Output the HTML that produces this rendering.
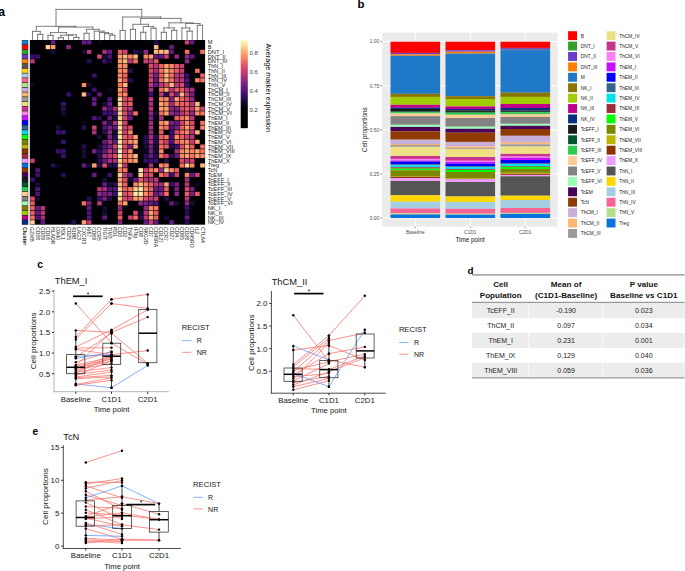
<!DOCTYPE html>
<html><head><meta charset="utf-8"><title>Figure</title>
<style>
html,body{margin:0;padding:0;background:#fff;}
body{width:685px;height:571px;overflow:hidden;}
svg{display:block;font-family:"Liberation Sans", sans-serif;}
</style></head><body>
<svg width="685" height="571" viewBox="0 0 685 571">
<rect x="0" y="0" width="685" height="571" fill="#ffffff"/>
<text x="-1.8" y="15.9" font-size="12.2" fill="#000" text-anchor="start" font-weight="bold">a</text>
<rect x="28.1" y="40" width="1.5" height="184.67" fill="#e4e4e4"/>
<rect x="21.8" y="40" width="6.3" height="184.67" fill="#1a1a1a"/>
<rect x="22.05" y="40.3" width="5.8" height="4.14" fill="#1f78c8"/>
<rect x="22.05" y="45.03" width="5.8" height="4.14" fill="#ff0000"/>
<rect x="22.05" y="49.77" width="5.8" height="4.14" fill="#33a02c"/>
<rect x="22.05" y="54.5" width="5.8" height="4.14" fill="#6a3dc9"/>
<rect x="22.05" y="59.24" width="5.8" height="4.14" fill="#ff7f00"/>
<rect x="22.05" y="63.97" width="5.8" height="4.14" fill="#555555"/>
<rect x="22.05" y="68.71" width="5.8" height="4.14" fill="#ffd700"/>
<rect x="22.05" y="73.45" width="5.8" height="4.14" fill="#a6cee3"/>
<rect x="22.05" y="78.18" width="5.8" height="4.14" fill="#fa6494"/>
<rect x="22.05" y="82.92" width="5.8" height="4.14" fill="#b2df8a"/>
<rect x="22.05" y="87.65" width="5.8" height="4.14" fill="#c8afd9"/>
<rect x="22.05" y="92.39" width="5.8" height="4.14" fill="#fdb56f"/>
<rect x="22.05" y="97.12" width="5.8" height="4.14" fill="#9a9a9a"/>
<rect x="22.05" y="101.86" width="5.8" height="4.14" fill="#eee185"/>
<rect x="22.05" y="106.59" width="5.8" height="4.14" fill="#c83490"/>
<rect x="22.05" y="111.33" width="5.8" height="4.14" fill="#ff80f5"/>
<rect x="22.05" y="116.06" width="5.8" height="4.14" fill="#c60fff"/>
<rect x="22.05" y="120.8" width="5.8" height="4.14" fill="#0000ff"/>
<rect x="22.05" y="125.53" width="5.8" height="4.14" fill="#36648b"/>
<rect x="22.05" y="130.27" width="5.8" height="4.14" fill="#00e0e8"/>
<rect x="22.05" y="135" width="5.8" height="4.14" fill="#00ff00"/>
<rect x="22.05" y="139.74" width="5.8" height="4.14" fill="#7a8800"/>
<rect x="22.05" y="144.47" width="5.8" height="4.14" fill="#bdb500"/>
<rect x="22.05" y="149.21" width="5.8" height="4.14" fill="#8b3300"/>
<rect x="22.05" y="153.94" width="5.8" height="4.14" fill="#a02a3a"/>
<rect x="22.05" y="158.68" width="5.8" height="4.14" fill="#ee9cff"/>
<rect x="22.05" y="163.41" width="5.8" height="4.14" fill="#0a72dc"/>
<rect x="22.05" y="168.15" width="5.8" height="4.14" fill="#8f3a00"/>
<rect x="22.05" y="172.88" width="5.8" height="4.14" fill="#4a0057"/>
<rect x="22.05" y="177.62" width="5.8" height="4.14" fill="#1a1a1a"/>
<rect x="22.05" y="182.35" width="5.8" height="4.14" fill="#00562f"/>
<rect x="22.05" y="187.09" width="5.8" height="4.14" fill="#2bcb4e"/>
<rect x="22.05" y="191.82" width="5.8" height="4.14" fill="#ffcb96"/>
<rect x="22.05" y="196.56" width="5.8" height="4.14" fill="#828282"/>
<rect x="22.05" y="201.29" width="5.8" height="4.14" fill="#9affb5"/>
<rect x="22.05" y="206.03" width="5.8" height="4.14" fill="#8c7400"/>
<rect x="22.05" y="210.76" width="5.8" height="4.14" fill="#a0cd00"/>
<rect x="22.05" y="215.5" width="5.8" height="4.14" fill="#c0008a"/>
<rect x="22.05" y="220.23" width="5.8" height="4.14" fill="#00307f"/>
<rect x="29.9" y="40" width="175.2" height="184.67" fill="#000004"/>
<rect x="50.81" y="40.3" width="4.55" height="4.14" fill="#641a80"/>
<rect x="81.73" y="40.3" width="4.55" height="4.14" fill="#641a80"/>
<rect x="86.88" y="40.3" width="4.55" height="4.14" fill="#641a80"/>
<rect x="97.19" y="40.3" width="4.55" height="4.14" fill="#0a071d"/>
<rect x="153.87" y="40.3" width="4.55" height="4.14" fill="#280e53"/>
<rect x="184.79" y="40.3" width="4.55" height="4.14" fill="#cb4070"/>
<rect x="189.94" y="40.3" width="4.55" height="4.14" fill="#641a80"/>
<rect x="45.66" y="45.03" width="4.55" height="4.14" fill="#fecf92"/>
<rect x="50.81" y="45.03" width="4.55" height="4.14" fill="#fe9f6d"/>
<rect x="66.27" y="45.03" width="4.55" height="4.14" fill="#8c2981"/>
<rect x="153.87" y="45.03" width="4.55" height="4.14" fill="#feb77f"/>
<rect x="169.33" y="45.03" width="4.55" height="4.14" fill="#641a80"/>
<rect x="50.81" y="49.77" width="4.55" height="4.14" fill="#140e36"/>
<rect x="81.73" y="49.77" width="4.55" height="4.14" fill="#140e36"/>
<rect x="86.88" y="49.77" width="4.55" height="4.14" fill="#b73779"/>
<rect x="102.34" y="49.77" width="4.55" height="4.14" fill="#a2307d"/>
<rect x="107.49" y="49.77" width="4.55" height="4.14" fill="#641a80"/>
<rect x="117.8" y="49.77" width="4.55" height="4.14" fill="#ea5d62"/>
<rect x="122.95" y="49.77" width="4.55" height="4.14" fill="#cb4070"/>
<rect x="133.26" y="49.77" width="4.55" height="4.14" fill="#280e53"/>
<rect x="138.41" y="49.77" width="4.55" height="4.14" fill="#140e36"/>
<rect x="143.57" y="49.77" width="4.55" height="4.14" fill="#8c2981"/>
<rect x="153.87" y="49.77" width="4.55" height="4.14" fill="#feb77f"/>
<rect x="159.03" y="49.77" width="4.55" height="4.14" fill="#feb77f"/>
<rect x="164.18" y="49.77" width="4.55" height="4.14" fill="#feb77f"/>
<rect x="169.33" y="49.77" width="4.55" height="4.14" fill="#641a80"/>
<rect x="184.79" y="49.77" width="4.55" height="4.14" fill="#f7705c"/>
<rect x="200.25" y="49.77" width="4.55" height="4.14" fill="#f7705c"/>
<rect x="30.2" y="54.5" width="4.55" height="4.14" fill="#3b0f70"/>
<rect x="35.35" y="54.5" width="4.55" height="4.14" fill="#3b0f70"/>
<rect x="97.19" y="54.5" width="4.55" height="4.14" fill="#de4968"/>
<rect x="102.34" y="54.5" width="4.55" height="4.14" fill="#140e36"/>
<rect x="107.49" y="54.5" width="4.55" height="4.14" fill="#501478"/>
<rect x="117.8" y="54.5" width="4.55" height="4.14" fill="#fe9f6d"/>
<rect x="122.95" y="54.5" width="4.55" height="4.14" fill="#feb77f"/>
<rect x="128.11" y="54.5" width="4.55" height="4.14" fill="#fa8864"/>
<rect x="133.26" y="54.5" width="4.55" height="4.14" fill="#feb77f"/>
<rect x="143.57" y="54.5" width="4.55" height="4.14" fill="#fa8864"/>
<rect x="148.72" y="54.5" width="4.55" height="4.14" fill="#fe9f6d"/>
<rect x="153.87" y="54.5" width="4.55" height="4.14" fill="#641a80"/>
<rect x="159.03" y="54.5" width="4.55" height="4.14" fill="#641a80"/>
<rect x="164.18" y="54.5" width="4.55" height="4.14" fill="#cb4070"/>
<rect x="174.48" y="54.5" width="4.55" height="4.14" fill="#8c2981"/>
<rect x="184.79" y="54.5" width="4.55" height="4.14" fill="#8c2981"/>
<rect x="189.94" y="54.5" width="4.55" height="4.14" fill="#641a80"/>
<rect x="30.2" y="59.24" width="4.55" height="4.14" fill="#b73779"/>
<rect x="86.88" y="59.24" width="4.55" height="4.14" fill="#280e53"/>
<rect x="102.34" y="59.24" width="4.55" height="4.14" fill="#3b0f70"/>
<rect x="107.49" y="59.24" width="4.55" height="4.14" fill="#140e36"/>
<rect x="117.8" y="59.24" width="4.55" height="4.14" fill="#fe9f6d"/>
<rect x="122.95" y="59.24" width="4.55" height="4.14" fill="#feb77f"/>
<rect x="128.11" y="59.24" width="4.55" height="4.14" fill="#b73779"/>
<rect x="133.26" y="59.24" width="4.55" height="4.14" fill="#f7705c"/>
<rect x="143.57" y="59.24" width="4.55" height="4.14" fill="#cb4070"/>
<rect x="148.72" y="59.24" width="4.55" height="4.14" fill="#b73779"/>
<rect x="153.87" y="59.24" width="4.55" height="4.14" fill="#ea5d62"/>
<rect x="184.79" y="59.24" width="4.55" height="4.14" fill="#8c2981"/>
<rect x="117.8" y="63.97" width="4.55" height="4.14" fill="#fa8864"/>
<rect x="122.95" y="63.97" width="4.55" height="4.14" fill="#fa8864"/>
<rect x="148.72" y="63.97" width="4.55" height="4.14" fill="#de4968"/>
<rect x="153.87" y="63.97" width="4.55" height="4.14" fill="#b73779"/>
<rect x="159.03" y="63.97" width="4.55" height="4.14" fill="#ea5d62"/>
<rect x="164.18" y="63.97" width="4.55" height="4.14" fill="#fe9f6d"/>
<rect x="169.33" y="63.97" width="4.55" height="4.14" fill="#fa8864"/>
<rect x="174.48" y="63.97" width="4.55" height="4.14" fill="#ea5d62"/>
<rect x="179.64" y="63.97" width="4.55" height="4.14" fill="#cb4070"/>
<rect x="117.8" y="68.71" width="4.55" height="4.14" fill="#fa8864"/>
<rect x="122.95" y="68.71" width="4.55" height="4.14" fill="#fa8864"/>
<rect x="128.11" y="68.71" width="4.55" height="4.14" fill="#280e53"/>
<rect x="148.72" y="68.71" width="4.55" height="4.14" fill="#de4968"/>
<rect x="153.87" y="68.71" width="4.55" height="4.14" fill="#a2307d"/>
<rect x="159.03" y="68.71" width="4.55" height="4.14" fill="#f7705c"/>
<rect x="164.18" y="68.71" width="4.55" height="4.14" fill="#feb77f"/>
<rect x="169.33" y="68.71" width="4.55" height="4.14" fill="#fa8864"/>
<rect x="174.48" y="68.71" width="4.55" height="4.14" fill="#ea5d62"/>
<rect x="179.64" y="68.71" width="4.55" height="4.14" fill="#cb4070"/>
<rect x="195.1" y="68.71" width="4.55" height="4.14" fill="#f7705c"/>
<rect x="92.04" y="73.45" width="4.55" height="4.14" fill="#3b0f70"/>
<rect x="117.8" y="73.45" width="4.55" height="4.14" fill="#fa8864"/>
<rect x="122.95" y="73.45" width="4.55" height="4.14" fill="#ea5d62"/>
<rect x="148.72" y="73.45" width="4.55" height="4.14" fill="#cb4070"/>
<rect x="153.87" y="73.45" width="4.55" height="4.14" fill="#782180"/>
<rect x="159.03" y="73.45" width="4.55" height="4.14" fill="#ea5d62"/>
<rect x="164.18" y="73.45" width="4.55" height="4.14" fill="#feb77f"/>
<rect x="169.33" y="73.45" width="4.55" height="4.14" fill="#f7705c"/>
<rect x="174.48" y="73.45" width="4.55" height="4.14" fill="#b73779"/>
<rect x="179.64" y="73.45" width="4.55" height="4.14" fill="#b73779"/>
<rect x="184.79" y="73.45" width="4.55" height="4.14" fill="#3b0f70"/>
<rect x="200.25" y="73.45" width="4.55" height="4.14" fill="#ea5d62"/>
<rect x="117.8" y="78.18" width="4.55" height="4.14" fill="#fe9f6d"/>
<rect x="122.95" y="78.18" width="4.55" height="4.14" fill="#ea5d62"/>
<rect x="128.11" y="78.18" width="4.55" height="4.14" fill="#280e53"/>
<rect x="148.72" y="78.18" width="4.55" height="4.14" fill="#de4968"/>
<rect x="153.87" y="78.18" width="4.55" height="4.14" fill="#641a80"/>
<rect x="159.03" y="78.18" width="4.55" height="4.14" fill="#f7705c"/>
<rect x="164.18" y="78.18" width="4.55" height="4.14" fill="#feb77f"/>
<rect x="169.33" y="78.18" width="4.55" height="4.14" fill="#f7705c"/>
<rect x="174.48" y="78.18" width="4.55" height="4.14" fill="#b73779"/>
<rect x="179.64" y="78.18" width="4.55" height="4.14" fill="#b73779"/>
<rect x="184.79" y="78.18" width="4.55" height="4.14" fill="#501478"/>
<rect x="195.1" y="78.18" width="4.55" height="4.14" fill="#fa8864"/>
<rect x="200.25" y="78.18" width="4.55" height="4.14" fill="#f7705c"/>
<rect x="30.2" y="82.92" width="4.55" height="4.14" fill="#0a071d"/>
<rect x="81.73" y="82.92" width="4.55" height="4.14" fill="#fa8864"/>
<rect x="86.88" y="82.92" width="4.55" height="4.14" fill="#140e36"/>
<rect x="117.8" y="82.92" width="4.55" height="4.14" fill="#f7705c"/>
<rect x="122.95" y="82.92" width="4.55" height="4.14" fill="#feb77f"/>
<rect x="148.72" y="82.92" width="4.55" height="4.14" fill="#b73779"/>
<rect x="153.87" y="82.92" width="4.55" height="4.14" fill="#641a80"/>
<rect x="159.03" y="82.92" width="4.55" height="4.14" fill="#b73779"/>
<rect x="164.18" y="82.92" width="4.55" height="4.14" fill="#de4968"/>
<rect x="169.33" y="82.92" width="4.55" height="4.14" fill="#feb77f"/>
<rect x="174.48" y="82.92" width="4.55" height="4.14" fill="#b73779"/>
<rect x="179.64" y="82.92" width="4.55" height="4.14" fill="#de4968"/>
<rect x="184.79" y="82.92" width="4.55" height="4.14" fill="#3b0f70"/>
<rect x="92.04" y="87.65" width="4.55" height="4.14" fill="#3b0f70"/>
<rect x="107.49" y="87.65" width="4.55" height="4.14" fill="#0a071d"/>
<rect x="117.8" y="87.65" width="4.55" height="4.14" fill="#fe9f6d"/>
<rect x="122.95" y="87.65" width="4.55" height="4.14" fill="#de4968"/>
<rect x="148.72" y="87.65" width="4.55" height="4.14" fill="#a2307d"/>
<rect x="159.03" y="87.65" width="4.55" height="4.14" fill="#f7705c"/>
<rect x="164.18" y="87.65" width="4.55" height="4.14" fill="#fe9f6d"/>
<rect x="169.33" y="87.65" width="4.55" height="4.14" fill="#b73779"/>
<rect x="174.48" y="87.65" width="4.55" height="4.14" fill="#ea5d62"/>
<rect x="179.64" y="87.65" width="4.55" height="4.14" fill="#ea5d62"/>
<rect x="184.79" y="87.65" width="4.55" height="4.14" fill="#b73779"/>
<rect x="189.94" y="87.65" width="4.55" height="4.14" fill="#a2307d"/>
<rect x="66.27" y="92.39" width="4.55" height="4.14" fill="#3b0f70"/>
<rect x="81.73" y="92.39" width="4.55" height="4.14" fill="#feb77f"/>
<rect x="86.88" y="92.39" width="4.55" height="4.14" fill="#280e53"/>
<rect x="97.19" y="92.39" width="4.55" height="4.14" fill="#641a80"/>
<rect x="117.8" y="92.39" width="4.55" height="4.14" fill="#fa8864"/>
<rect x="122.95" y="92.39" width="4.55" height="4.14" fill="#fa8864"/>
<rect x="148.72" y="92.39" width="4.55" height="4.14" fill="#3b0f70"/>
<rect x="159.03" y="92.39" width="4.55" height="4.14" fill="#b73779"/>
<rect x="164.18" y="92.39" width="4.55" height="4.14" fill="#280e53"/>
<rect x="169.33" y="92.39" width="4.55" height="4.14" fill="#de4968"/>
<rect x="174.48" y="92.39" width="4.55" height="4.14" fill="#782180"/>
<rect x="179.64" y="92.39" width="4.55" height="4.14" fill="#feb77f"/>
<rect x="184.79" y="92.39" width="4.55" height="4.14" fill="#cb4070"/>
<rect x="189.94" y="92.39" width="4.55" height="4.14" fill="#782180"/>
<rect x="92.04" y="97.12" width="4.55" height="4.14" fill="#641a80"/>
<rect x="107.49" y="97.12" width="4.55" height="4.14" fill="#501478"/>
<rect x="117.8" y="97.12" width="4.55" height="4.14" fill="#fecf92"/>
<rect x="122.95" y="97.12" width="4.55" height="4.14" fill="#de4968"/>
<rect x="128.11" y="97.12" width="4.55" height="4.14" fill="#de4968"/>
<rect x="148.72" y="97.12" width="4.55" height="4.14" fill="#b73779"/>
<rect x="159.03" y="97.12" width="4.55" height="4.14" fill="#fa8864"/>
<rect x="164.18" y="97.12" width="4.55" height="4.14" fill="#fa8864"/>
<rect x="169.33" y="97.12" width="4.55" height="4.14" fill="#782180"/>
<rect x="174.48" y="97.12" width="4.55" height="4.14" fill="#fe9f6d"/>
<rect x="179.64" y="97.12" width="4.55" height="4.14" fill="#ea5d62"/>
<rect x="184.79" y="97.12" width="4.55" height="4.14" fill="#de4968"/>
<rect x="189.94" y="97.12" width="4.55" height="4.14" fill="#8c2981"/>
<rect x="61.12" y="101.86" width="4.55" height="4.14" fill="#3b0f70"/>
<rect x="92.04" y="101.86" width="4.55" height="4.14" fill="#641a80"/>
<rect x="102.34" y="101.86" width="4.55" height="4.14" fill="#140e36"/>
<rect x="107.49" y="101.86" width="4.55" height="4.14" fill="#641a80"/>
<rect x="117.8" y="101.86" width="4.55" height="4.14" fill="#fecf92"/>
<rect x="122.95" y="101.86" width="4.55" height="4.14" fill="#de4968"/>
<rect x="128.11" y="101.86" width="4.55" height="4.14" fill="#ea5d62"/>
<rect x="148.72" y="101.86" width="4.55" height="4.14" fill="#a2307d"/>
<rect x="159.03" y="101.86" width="4.55" height="4.14" fill="#fe9f6d"/>
<rect x="164.18" y="101.86" width="4.55" height="4.14" fill="#fa8864"/>
<rect x="169.33" y="101.86" width="4.55" height="4.14" fill="#a2307d"/>
<rect x="174.48" y="101.86" width="4.55" height="4.14" fill="#f7705c"/>
<rect x="179.64" y="101.86" width="4.55" height="4.14" fill="#ea5d62"/>
<rect x="184.79" y="101.86" width="4.55" height="4.14" fill="#ea5d62"/>
<rect x="189.94" y="101.86" width="4.55" height="4.14" fill="#b73779"/>
<rect x="195.1" y="101.86" width="4.55" height="4.14" fill="#feb77f"/>
<rect x="61.12" y="106.59" width="4.55" height="4.14" fill="#280e53"/>
<rect x="102.34" y="106.59" width="4.55" height="4.14" fill="#8c2981"/>
<rect x="107.49" y="106.59" width="4.55" height="4.14" fill="#501478"/>
<rect x="112.65" y="106.59" width="4.55" height="4.14" fill="#a2307d"/>
<rect x="117.8" y="106.59" width="4.55" height="4.14" fill="#fecf92"/>
<rect x="122.95" y="106.59" width="4.55" height="4.14" fill="#cb4070"/>
<rect x="128.11" y="106.59" width="4.55" height="4.14" fill="#b73779"/>
<rect x="148.72" y="106.59" width="4.55" height="4.14" fill="#b73779"/>
<rect x="159.03" y="106.59" width="4.55" height="4.14" fill="#fe9f6d"/>
<rect x="164.18" y="106.59" width="4.55" height="4.14" fill="#fe9f6d"/>
<rect x="169.33" y="106.59" width="4.55" height="4.14" fill="#8c2981"/>
<rect x="174.48" y="106.59" width="4.55" height="4.14" fill="#782180"/>
<rect x="179.64" y="106.59" width="4.55" height="4.14" fill="#de4968"/>
<rect x="184.79" y="106.59" width="4.55" height="4.14" fill="#ea5d62"/>
<rect x="189.94" y="106.59" width="4.55" height="4.14" fill="#cb4070"/>
<rect x="195.1" y="106.59" width="4.55" height="4.14" fill="#fe9f6d"/>
<rect x="200.25" y="106.59" width="4.55" height="4.14" fill="#cb4070"/>
<rect x="61.12" y="111.33" width="4.55" height="4.14" fill="#140e36"/>
<rect x="102.34" y="111.33" width="4.55" height="4.14" fill="#3b0f70"/>
<rect x="107.49" y="111.33" width="4.55" height="4.14" fill="#3b0f70"/>
<rect x="112.65" y="111.33" width="4.55" height="4.14" fill="#501478"/>
<rect x="117.8" y="111.33" width="4.55" height="4.14" fill="#fecf92"/>
<rect x="122.95" y="111.33" width="4.55" height="4.14" fill="#de4968"/>
<rect x="128.11" y="111.33" width="4.55" height="4.14" fill="#782180"/>
<rect x="133.26" y="111.33" width="4.55" height="4.14" fill="#f7705c"/>
<rect x="148.72" y="111.33" width="4.55" height="4.14" fill="#8c2981"/>
<rect x="153.87" y="111.33" width="4.55" height="4.14" fill="#140e36"/>
<rect x="159.03" y="111.33" width="4.55" height="4.14" fill="#f7705c"/>
<rect x="164.18" y="111.33" width="4.55" height="4.14" fill="#fe9f6d"/>
<rect x="169.33" y="111.33" width="4.55" height="4.14" fill="#8c2981"/>
<rect x="174.48" y="111.33" width="4.55" height="4.14" fill="#782180"/>
<rect x="179.64" y="111.33" width="4.55" height="4.14" fill="#b73779"/>
<rect x="184.79" y="111.33" width="4.55" height="4.14" fill="#de4968"/>
<rect x="189.94" y="111.33" width="4.55" height="4.14" fill="#8c2981"/>
<rect x="195.1" y="111.33" width="4.55" height="4.14" fill="#fa8864"/>
<rect x="200.25" y="111.33" width="4.55" height="4.14" fill="#f7705c"/>
<rect x="92.04" y="116.06" width="4.55" height="4.14" fill="#501478"/>
<rect x="97.19" y="116.06" width="4.55" height="4.14" fill="#280e53"/>
<rect x="107.49" y="116.06" width="4.55" height="4.14" fill="#641a80"/>
<rect x="112.65" y="116.06" width="4.55" height="4.14" fill="#140e36"/>
<rect x="117.8" y="116.06" width="4.55" height="4.14" fill="#fecf92"/>
<rect x="122.95" y="116.06" width="4.55" height="4.14" fill="#cb4070"/>
<rect x="128.11" y="116.06" width="4.55" height="4.14" fill="#641a80"/>
<rect x="148.72" y="116.06" width="4.55" height="4.14" fill="#782180"/>
<rect x="153.87" y="116.06" width="4.55" height="4.14" fill="#0a071d"/>
<rect x="159.03" y="116.06" width="4.55" height="4.14" fill="#a2307d"/>
<rect x="174.48" y="116.06" width="4.55" height="4.14" fill="#ea5d62"/>
<rect x="179.64" y="116.06" width="4.55" height="4.14" fill="#f7705c"/>
<rect x="184.79" y="116.06" width="4.55" height="4.14" fill="#fa8864"/>
<rect x="189.94" y="116.06" width="4.55" height="4.14" fill="#b73779"/>
<rect x="81.73" y="120.8" width="4.55" height="4.14" fill="#0a071d"/>
<rect x="102.34" y="120.8" width="4.55" height="4.14" fill="#782180"/>
<rect x="107.49" y="120.8" width="4.55" height="4.14" fill="#280e53"/>
<rect x="112.65" y="120.8" width="4.55" height="4.14" fill="#a2307d"/>
<rect x="117.8" y="120.8" width="4.55" height="4.14" fill="#fecf92"/>
<rect x="122.95" y="120.8" width="4.55" height="4.14" fill="#cb4070"/>
<rect x="148.72" y="120.8" width="4.55" height="4.14" fill="#a2307d"/>
<rect x="159.03" y="120.8" width="4.55" height="4.14" fill="#fa8864"/>
<rect x="164.18" y="120.8" width="4.55" height="4.14" fill="#fe9f6d"/>
<rect x="169.33" y="120.8" width="4.55" height="4.14" fill="#782180"/>
<rect x="174.48" y="120.8" width="4.55" height="4.14" fill="#641a80"/>
<rect x="179.64" y="120.8" width="4.55" height="4.14" fill="#cb4070"/>
<rect x="184.79" y="120.8" width="4.55" height="4.14" fill="#fa8864"/>
<rect x="189.94" y="120.8" width="4.55" height="4.14" fill="#de4968"/>
<rect x="200.25" y="120.8" width="4.55" height="4.14" fill="#f7705c"/>
<rect x="55.96" y="125.53" width="4.55" height="4.14" fill="#140e36"/>
<rect x="81.73" y="125.53" width="4.55" height="4.14" fill="#280e53"/>
<rect x="92.04" y="125.53" width="4.55" height="4.14" fill="#cb4070"/>
<rect x="102.34" y="125.53" width="4.55" height="4.14" fill="#501478"/>
<rect x="107.49" y="125.53" width="4.55" height="4.14" fill="#782180"/>
<rect x="112.65" y="125.53" width="4.55" height="4.14" fill="#641a80"/>
<rect x="117.8" y="125.53" width="4.55" height="4.14" fill="#fde6a8"/>
<rect x="122.95" y="125.53" width="4.55" height="4.14" fill="#cb4070"/>
<rect x="128.11" y="125.53" width="4.55" height="4.14" fill="#de4968"/>
<rect x="148.72" y="125.53" width="4.55" height="4.14" fill="#a2307d"/>
<rect x="159.03" y="125.53" width="4.55" height="4.14" fill="#fa8864"/>
<rect x="164.18" y="125.53" width="4.55" height="4.14" fill="#f7705c"/>
<rect x="169.33" y="125.53" width="4.55" height="4.14" fill="#501478"/>
<rect x="174.48" y="125.53" width="4.55" height="4.14" fill="#782180"/>
<rect x="179.64" y="125.53" width="4.55" height="4.14" fill="#ea5d62"/>
<rect x="184.79" y="125.53" width="4.55" height="4.14" fill="#fe9f6d"/>
<rect x="189.94" y="125.53" width="4.55" height="4.14" fill="#ea5d62"/>
<rect x="200.25" y="125.53" width="4.55" height="4.14" fill="#fa8864"/>
<rect x="55.96" y="130.27" width="4.55" height="4.14" fill="#3b0f70"/>
<rect x="61.12" y="130.27" width="4.55" height="4.14" fill="#3b0f70"/>
<rect x="92.04" y="130.27" width="4.55" height="4.14" fill="#a2307d"/>
<rect x="102.34" y="130.27" width="4.55" height="4.14" fill="#280e53"/>
<rect x="107.49" y="130.27" width="4.55" height="4.14" fill="#8c2981"/>
<rect x="112.65" y="130.27" width="4.55" height="4.14" fill="#140e36"/>
<rect x="117.8" y="130.27" width="4.55" height="4.14" fill="#fecf92"/>
<rect x="122.95" y="130.27" width="4.55" height="4.14" fill="#cb4070"/>
<rect x="128.11" y="130.27" width="4.55" height="4.14" fill="#fa8864"/>
<rect x="148.72" y="130.27" width="4.55" height="4.14" fill="#8c2981"/>
<rect x="159.03" y="130.27" width="4.55" height="4.14" fill="#ea5d62"/>
<rect x="169.33" y="130.27" width="4.55" height="4.14" fill="#3b0f70"/>
<rect x="174.48" y="130.27" width="4.55" height="4.14" fill="#de4968"/>
<rect x="179.64" y="130.27" width="4.55" height="4.14" fill="#f7705c"/>
<rect x="184.79" y="130.27" width="4.55" height="4.14" fill="#fa8864"/>
<rect x="189.94" y="130.27" width="4.55" height="4.14" fill="#b73779"/>
<rect x="195.1" y="130.27" width="4.55" height="4.14" fill="#feb77f"/>
<rect x="97.19" y="135" width="4.55" height="4.14" fill="#140e36"/>
<rect x="107.49" y="135" width="4.55" height="4.14" fill="#782180"/>
<rect x="112.65" y="135" width="4.55" height="4.14" fill="#280e53"/>
<rect x="117.8" y="135" width="4.55" height="4.14" fill="#fde6a8"/>
<rect x="122.95" y="135" width="4.55" height="4.14" fill="#ea5d62"/>
<rect x="128.11" y="135" width="4.55" height="4.14" fill="#de4968"/>
<rect x="133.26" y="135" width="4.55" height="4.14" fill="#fe9f6d"/>
<rect x="143.57" y="135" width="4.55" height="4.14" fill="#280e53"/>
<rect x="148.72" y="135" width="4.55" height="4.14" fill="#a2307d"/>
<rect x="153.87" y="135" width="4.55" height="4.14" fill="#280e53"/>
<rect x="159.03" y="135" width="4.55" height="4.14" fill="#ea5d62"/>
<rect x="164.18" y="135" width="4.55" height="4.14" fill="#f7705c"/>
<rect x="169.33" y="135" width="4.55" height="4.14" fill="#3b0f70"/>
<rect x="174.48" y="135" width="4.55" height="4.14" fill="#fa8864"/>
<rect x="179.64" y="135" width="4.55" height="4.14" fill="#ea5d62"/>
<rect x="184.79" y="135" width="4.55" height="4.14" fill="#cb4070"/>
<rect x="189.94" y="135" width="4.55" height="4.14" fill="#b73779"/>
<rect x="61.12" y="139.74" width="4.55" height="4.14" fill="#3b0f70"/>
<rect x="102.34" y="139.74" width="4.55" height="4.14" fill="#641a80"/>
<rect x="107.49" y="139.74" width="4.55" height="4.14" fill="#a2307d"/>
<rect x="112.65" y="139.74" width="4.55" height="4.14" fill="#641a80"/>
<rect x="117.8" y="139.74" width="4.55" height="4.14" fill="#fde6a8"/>
<rect x="122.95" y="139.74" width="4.55" height="4.14" fill="#ea5d62"/>
<rect x="128.11" y="139.74" width="4.55" height="4.14" fill="#fa8864"/>
<rect x="133.26" y="139.74" width="4.55" height="4.14" fill="#fe9f6d"/>
<rect x="143.57" y="139.74" width="4.55" height="4.14" fill="#280e53"/>
<rect x="148.72" y="139.74" width="4.55" height="4.14" fill="#a2307d"/>
<rect x="153.87" y="139.74" width="4.55" height="4.14" fill="#280e53"/>
<rect x="159.03" y="139.74" width="4.55" height="4.14" fill="#ea5d62"/>
<rect x="164.18" y="139.74" width="4.55" height="4.14" fill="#cb4070"/>
<rect x="169.33" y="139.74" width="4.55" height="4.14" fill="#501478"/>
<rect x="174.48" y="139.74" width="4.55" height="4.14" fill="#ea5d62"/>
<rect x="179.64" y="139.74" width="4.55" height="4.14" fill="#fa8864"/>
<rect x="184.79" y="139.74" width="4.55" height="4.14" fill="#fa8864"/>
<rect x="189.94" y="139.74" width="4.55" height="4.14" fill="#cb4070"/>
<rect x="195.1" y="139.74" width="4.55" height="4.14" fill="#fe9f6d"/>
<rect x="81.73" y="144.47" width="4.55" height="4.14" fill="#280e53"/>
<rect x="97.19" y="144.47" width="4.55" height="4.14" fill="#140e36"/>
<rect x="102.34" y="144.47" width="4.55" height="4.14" fill="#501478"/>
<rect x="107.49" y="144.47" width="4.55" height="4.14" fill="#782180"/>
<rect x="112.65" y="144.47" width="4.55" height="4.14" fill="#cb4070"/>
<rect x="117.8" y="144.47" width="4.55" height="4.14" fill="#fde6a8"/>
<rect x="122.95" y="144.47" width="4.55" height="4.14" fill="#de4968"/>
<rect x="128.11" y="144.47" width="4.55" height="4.14" fill="#782180"/>
<rect x="133.26" y="144.47" width="4.55" height="4.14" fill="#fe9f6d"/>
<rect x="143.57" y="144.47" width="4.55" height="4.14" fill="#140e36"/>
<rect x="148.72" y="144.47" width="4.55" height="4.14" fill="#782180"/>
<rect x="153.87" y="144.47" width="4.55" height="4.14" fill="#140e36"/>
<rect x="159.03" y="144.47" width="4.55" height="4.14" fill="#f7705c"/>
<rect x="164.18" y="144.47" width="4.55" height="4.14" fill="#ea5d62"/>
<rect x="169.33" y="144.47" width="4.55" height="4.14" fill="#280e53"/>
<rect x="174.48" y="144.47" width="4.55" height="4.14" fill="#3b0f70"/>
<rect x="179.64" y="144.47" width="4.55" height="4.14" fill="#de4968"/>
<rect x="184.79" y="144.47" width="4.55" height="4.14" fill="#fe9f6d"/>
<rect x="189.94" y="144.47" width="4.55" height="4.14" fill="#ea5d62"/>
<rect x="200.25" y="144.47" width="4.55" height="4.14" fill="#f7705c"/>
<rect x="55.96" y="149.21" width="4.55" height="4.14" fill="#3b0f70"/>
<rect x="61.12" y="149.21" width="4.55" height="4.14" fill="#3b0f70"/>
<rect x="81.73" y="149.21" width="4.55" height="4.14" fill="#140e36"/>
<rect x="92.04" y="149.21" width="4.55" height="4.14" fill="#782180"/>
<rect x="97.19" y="149.21" width="4.55" height="4.14" fill="#280e53"/>
<rect x="102.34" y="149.21" width="4.55" height="4.14" fill="#641a80"/>
<rect x="107.49" y="149.21" width="4.55" height="4.14" fill="#b73779"/>
<rect x="112.65" y="149.21" width="4.55" height="4.14" fill="#8c2981"/>
<rect x="117.8" y="149.21" width="4.55" height="4.14" fill="#fdefb1"/>
<rect x="122.95" y="149.21" width="4.55" height="4.14" fill="#de4968"/>
<rect x="128.11" y="149.21" width="4.55" height="4.14" fill="#fa8864"/>
<rect x="138.41" y="149.21" width="4.55" height="4.14" fill="#0a071d"/>
<rect x="143.57" y="149.21" width="4.55" height="4.14" fill="#0a071d"/>
<rect x="148.72" y="149.21" width="4.55" height="4.14" fill="#782180"/>
<rect x="153.87" y="149.21" width="4.55" height="4.14" fill="#140e36"/>
<rect x="159.03" y="149.21" width="4.55" height="4.14" fill="#fa8864"/>
<rect x="174.48" y="149.21" width="4.55" height="4.14" fill="#a2307d"/>
<rect x="179.64" y="149.21" width="4.55" height="4.14" fill="#fa8864"/>
<rect x="184.79" y="149.21" width="4.55" height="4.14" fill="#fe9f6d"/>
<rect x="189.94" y="149.21" width="4.55" height="4.14" fill="#fa8864"/>
<rect x="195.1" y="149.21" width="4.55" height="4.14" fill="#fe9f6d"/>
<rect x="200.25" y="149.21" width="4.55" height="4.14" fill="#f7705c"/>
<rect x="61.12" y="153.94" width="4.55" height="4.14" fill="#3b0f70"/>
<rect x="81.73" y="153.94" width="4.55" height="4.14" fill="#140e36"/>
<rect x="97.19" y="153.94" width="4.55" height="4.14" fill="#280e53"/>
<rect x="102.34" y="153.94" width="4.55" height="4.14" fill="#a2307d"/>
<rect x="107.49" y="153.94" width="4.55" height="4.14" fill="#b73779"/>
<rect x="112.65" y="153.94" width="4.55" height="4.14" fill="#de4968"/>
<rect x="117.8" y="153.94" width="4.55" height="4.14" fill="#fde6a8"/>
<rect x="122.95" y="153.94" width="4.55" height="4.14" fill="#ea5d62"/>
<rect x="128.11" y="153.94" width="4.55" height="4.14" fill="#fa8864"/>
<rect x="133.26" y="153.94" width="4.55" height="4.14" fill="#feb77f"/>
<rect x="143.57" y="153.94" width="4.55" height="4.14" fill="#280e53"/>
<rect x="148.72" y="153.94" width="4.55" height="4.14" fill="#641a80"/>
<rect x="153.87" y="153.94" width="4.55" height="4.14" fill="#280e53"/>
<rect x="159.03" y="153.94" width="4.55" height="4.14" fill="#f7705c"/>
<rect x="164.18" y="153.94" width="4.55" height="4.14" fill="#cb4070"/>
<rect x="169.33" y="153.94" width="4.55" height="4.14" fill="#280e53"/>
<rect x="174.48" y="153.94" width="4.55" height="4.14" fill="#641a80"/>
<rect x="179.64" y="153.94" width="4.55" height="4.14" fill="#fa8864"/>
<rect x="184.79" y="153.94" width="4.55" height="4.14" fill="#fe9f6d"/>
<rect x="189.94" y="153.94" width="4.55" height="4.14" fill="#f7705c"/>
<rect x="195.1" y="153.94" width="4.55" height="4.14" fill="#fe9f6d"/>
<rect x="200.25" y="153.94" width="4.55" height="4.14" fill="#fa8864"/>
<rect x="30.2" y="158.68" width="4.55" height="4.14" fill="#cb4070"/>
<rect x="97.19" y="158.68" width="4.55" height="4.14" fill="#280e53"/>
<rect x="102.34" y="158.68" width="4.55" height="4.14" fill="#641a80"/>
<rect x="107.49" y="158.68" width="4.55" height="4.14" fill="#a2307d"/>
<rect x="112.65" y="158.68" width="4.55" height="4.14" fill="#a2307d"/>
<rect x="117.8" y="158.68" width="4.55" height="4.14" fill="#fecf92"/>
<rect x="122.95" y="158.68" width="4.55" height="4.14" fill="#f7705c"/>
<rect x="128.11" y="158.68" width="4.55" height="4.14" fill="#fa8864"/>
<rect x="133.26" y="158.68" width="4.55" height="4.14" fill="#fe9f6d"/>
<rect x="143.57" y="158.68" width="4.55" height="4.14" fill="#3b0f70"/>
<rect x="148.72" y="158.68" width="4.55" height="4.14" fill="#3b0f70"/>
<rect x="153.87" y="158.68" width="4.55" height="4.14" fill="#3b0f70"/>
<rect x="164.18" y="158.68" width="4.55" height="4.14" fill="#280e53"/>
<rect x="179.64" y="158.68" width="4.55" height="4.14" fill="#de4968"/>
<rect x="184.79" y="158.68" width="4.55" height="4.14" fill="#b73779"/>
<rect x="189.94" y="158.68" width="4.55" height="4.14" fill="#cb4070"/>
<rect x="50.81" y="163.41" width="4.55" height="4.14" fill="#280e53"/>
<rect x="55.96" y="163.41" width="4.55" height="4.14" fill="#0a071d"/>
<rect x="81.73" y="163.41" width="4.55" height="4.14" fill="#641a80"/>
<rect x="86.88" y="163.41" width="4.55" height="4.14" fill="#140e36"/>
<rect x="92.04" y="163.41" width="4.55" height="4.14" fill="#fe9f6d"/>
<rect x="97.19" y="163.41" width="4.55" height="4.14" fill="#280e53"/>
<rect x="102.34" y="163.41" width="4.55" height="4.14" fill="#de4968"/>
<rect x="107.49" y="163.41" width="4.55" height="4.14" fill="#280e53"/>
<rect x="112.65" y="163.41" width="4.55" height="4.14" fill="#280e53"/>
<rect x="117.8" y="163.41" width="4.55" height="4.14" fill="#fecf92"/>
<rect x="122.95" y="163.41" width="4.55" height="4.14" fill="#b73779"/>
<rect x="148.72" y="163.41" width="4.55" height="4.14" fill="#a2307d"/>
<rect x="159.03" y="163.41" width="4.55" height="4.14" fill="#fa8864"/>
<rect x="164.18" y="163.41" width="4.55" height="4.14" fill="#fa8864"/>
<rect x="179.64" y="163.41" width="4.55" height="4.14" fill="#f7705c"/>
<rect x="184.79" y="163.41" width="4.55" height="4.14" fill="#fecf92"/>
<rect x="189.94" y="163.41" width="4.55" height="4.14" fill="#fa8864"/>
<rect x="200.25" y="163.41" width="4.55" height="4.14" fill="#feb77f"/>
<rect x="35.35" y="168.15" width="4.55" height="4.14" fill="#501478"/>
<rect x="117.8" y="168.15" width="4.55" height="4.14" fill="#fa8864"/>
<rect x="122.95" y="168.15" width="4.55" height="4.14" fill="#f7705c"/>
<rect x="138.41" y="168.15" width="4.55" height="4.14" fill="#fde6a8"/>
<rect x="143.57" y="168.15" width="4.55" height="4.14" fill="#cb4070"/>
<rect x="148.72" y="168.15" width="4.55" height="4.14" fill="#f7705c"/>
<rect x="153.87" y="168.15" width="4.55" height="4.14" fill="#fa8864"/>
<rect x="159.03" y="168.15" width="4.55" height="4.14" fill="#8c2981"/>
<rect x="164.18" y="168.15" width="4.55" height="4.14" fill="#fecf92"/>
<rect x="169.33" y="168.15" width="4.55" height="4.14" fill="#fa8864"/>
<rect x="174.48" y="168.15" width="4.55" height="4.14" fill="#ea5d62"/>
<rect x="184.79" y="168.15" width="4.55" height="4.14" fill="#140e36"/>
<rect x="35.35" y="172.88" width="4.55" height="4.14" fill="#3b0f70"/>
<rect x="61.12" y="172.88" width="4.55" height="4.14" fill="#280e53"/>
<rect x="92.04" y="172.88" width="4.55" height="4.14" fill="#641a80"/>
<rect x="107.49" y="172.88" width="4.55" height="4.14" fill="#3b0f70"/>
<rect x="117.8" y="172.88" width="4.55" height="4.14" fill="#fecf92"/>
<rect x="122.95" y="172.88" width="4.55" height="4.14" fill="#b73779"/>
<rect x="128.11" y="172.88" width="4.55" height="4.14" fill="#782180"/>
<rect x="138.41" y="172.88" width="4.55" height="4.14" fill="#fecf92"/>
<rect x="143.57" y="172.88" width="4.55" height="4.14" fill="#cb4070"/>
<rect x="148.72" y="172.88" width="4.55" height="4.14" fill="#de4968"/>
<rect x="159.03" y="172.88" width="4.55" height="4.14" fill="#f7705c"/>
<rect x="164.18" y="172.88" width="4.55" height="4.14" fill="#de4968"/>
<rect x="169.33" y="172.88" width="4.55" height="4.14" fill="#3b0f70"/>
<rect x="174.48" y="172.88" width="4.55" height="4.14" fill="#cb4070"/>
<rect x="184.79" y="172.88" width="4.55" height="4.14" fill="#fa8864"/>
<rect x="189.94" y="172.88" width="4.55" height="4.14" fill="#641a80"/>
<rect x="195.1" y="172.88" width="4.55" height="4.14" fill="#cb4070"/>
<rect x="30.2" y="177.62" width="4.55" height="4.14" fill="#3b0f70"/>
<rect x="102.34" y="177.62" width="4.55" height="4.14" fill="#140e36"/>
<rect x="117.8" y="177.62" width="4.55" height="4.14" fill="#fe9f6d"/>
<rect x="122.95" y="177.62" width="4.55" height="4.14" fill="#de4968"/>
<rect x="128.11" y="177.62" width="4.55" height="4.14" fill="#140e36"/>
<rect x="133.26" y="177.62" width="4.55" height="4.14" fill="#641a80"/>
<rect x="138.41" y="177.62" width="4.55" height="4.14" fill="#ea5d62"/>
<rect x="143.57" y="177.62" width="4.55" height="4.14" fill="#b73779"/>
<rect x="148.72" y="177.62" width="4.55" height="4.14" fill="#a2307d"/>
<rect x="153.87" y="177.62" width="4.55" height="4.14" fill="#b73779"/>
<rect x="184.79" y="177.62" width="4.55" height="4.14" fill="#a2307d"/>
<rect x="35.35" y="182.35" width="4.55" height="4.14" fill="#140e36"/>
<rect x="102.34" y="182.35" width="4.55" height="4.14" fill="#641a80"/>
<rect x="107.49" y="182.35" width="4.55" height="4.14" fill="#140e36"/>
<rect x="112.65" y="182.35" width="4.55" height="4.14" fill="#280e53"/>
<rect x="117.8" y="182.35" width="4.55" height="4.14" fill="#feb77f"/>
<rect x="122.95" y="182.35" width="4.55" height="4.14" fill="#ea5d62"/>
<rect x="133.26" y="182.35" width="4.55" height="4.14" fill="#fa8864"/>
<rect x="138.41" y="182.35" width="4.55" height="4.14" fill="#feb77f"/>
<rect x="143.57" y="182.35" width="4.55" height="4.14" fill="#fa8864"/>
<rect x="148.72" y="182.35" width="4.55" height="4.14" fill="#ea5d62"/>
<rect x="153.87" y="182.35" width="4.55" height="4.14" fill="#b73779"/>
<rect x="159.03" y="182.35" width="4.55" height="4.14" fill="#a2307d"/>
<rect x="164.18" y="182.35" width="4.55" height="4.14" fill="#fe9f6d"/>
<rect x="169.33" y="182.35" width="4.55" height="4.14" fill="#3b0f70"/>
<rect x="174.48" y="182.35" width="4.55" height="4.14" fill="#782180"/>
<rect x="184.79" y="182.35" width="4.55" height="4.14" fill="#b73779"/>
<rect x="195.1" y="182.35" width="4.55" height="4.14" fill="#0a071d"/>
<rect x="35.35" y="187.09" width="4.55" height="4.14" fill="#501478"/>
<rect x="97.19" y="187.09" width="4.55" height="4.14" fill="#b73779"/>
<rect x="102.34" y="187.09" width="4.55" height="4.14" fill="#a2307d"/>
<rect x="107.49" y="187.09" width="4.55" height="4.14" fill="#501478"/>
<rect x="112.65" y="187.09" width="4.55" height="4.14" fill="#501478"/>
<rect x="117.8" y="187.09" width="4.55" height="4.14" fill="#fecf92"/>
<rect x="122.95" y="187.09" width="4.55" height="4.14" fill="#ea5d62"/>
<rect x="128.11" y="187.09" width="4.55" height="4.14" fill="#f7705c"/>
<rect x="133.26" y="187.09" width="4.55" height="4.14" fill="#fecf92"/>
<rect x="138.41" y="187.09" width="4.55" height="4.14" fill="#fde6a8"/>
<rect x="143.57" y="187.09" width="4.55" height="4.14" fill="#fa8864"/>
<rect x="148.72" y="187.09" width="4.55" height="4.14" fill="#ea5d62"/>
<rect x="153.87" y="187.09" width="4.55" height="4.14" fill="#641a80"/>
<rect x="159.03" y="187.09" width="4.55" height="4.14" fill="#641a80"/>
<rect x="164.18" y="187.09" width="4.55" height="4.14" fill="#ea5d62"/>
<rect x="174.48" y="187.09" width="4.55" height="4.14" fill="#782180"/>
<rect x="184.79" y="187.09" width="4.55" height="4.14" fill="#de4968"/>
<rect x="189.94" y="187.09" width="4.55" height="4.14" fill="#782180"/>
<rect x="35.35" y="191.82" width="4.55" height="4.14" fill="#501478"/>
<rect x="97.19" y="191.82" width="4.55" height="4.14" fill="#8c2981"/>
<rect x="102.34" y="191.82" width="4.55" height="4.14" fill="#782180"/>
<rect x="107.49" y="191.82" width="4.55" height="4.14" fill="#782180"/>
<rect x="112.65" y="191.82" width="4.55" height="4.14" fill="#3b0f70"/>
<rect x="117.8" y="191.82" width="4.55" height="4.14" fill="#fde6a8"/>
<rect x="122.95" y="191.82" width="4.55" height="4.14" fill="#de4968"/>
<rect x="128.11" y="191.82" width="4.55" height="4.14" fill="#ea5d62"/>
<rect x="133.26" y="191.82" width="4.55" height="4.14" fill="#fde6a8"/>
<rect x="138.41" y="191.82" width="4.55" height="4.14" fill="#fde6a8"/>
<rect x="143.57" y="191.82" width="4.55" height="4.14" fill="#fa8864"/>
<rect x="148.72" y="191.82" width="4.55" height="4.14" fill="#ea5d62"/>
<rect x="153.87" y="191.82" width="4.55" height="4.14" fill="#641a80"/>
<rect x="159.03" y="191.82" width="4.55" height="4.14" fill="#8c2981"/>
<rect x="164.18" y="191.82" width="4.55" height="4.14" fill="#f7705c"/>
<rect x="174.48" y="191.82" width="4.55" height="4.14" fill="#8c2981"/>
<rect x="184.79" y="191.82" width="4.55" height="4.14" fill="#ea5d62"/>
<rect x="189.94" y="191.82" width="4.55" height="4.14" fill="#782180"/>
<rect x="195.1" y="191.82" width="4.55" height="4.14" fill="#ea5d62"/>
<rect x="30.2" y="196.56" width="4.55" height="4.14" fill="#de4968"/>
<rect x="35.35" y="196.56" width="4.55" height="4.14" fill="#140e36"/>
<rect x="86.88" y="196.56" width="4.55" height="4.14" fill="#280e53"/>
<rect x="97.19" y="196.56" width="4.55" height="4.14" fill="#3b0f70"/>
<rect x="102.34" y="196.56" width="4.55" height="4.14" fill="#782180"/>
<rect x="107.49" y="196.56" width="4.55" height="4.14" fill="#280e53"/>
<rect x="117.8" y="196.56" width="4.55" height="4.14" fill="#fecf92"/>
<rect x="122.95" y="196.56" width="4.55" height="4.14" fill="#de4968"/>
<rect x="128.11" y="196.56" width="4.55" height="4.14" fill="#cb4070"/>
<rect x="133.26" y="196.56" width="4.55" height="4.14" fill="#fe9f6d"/>
<rect x="138.41" y="196.56" width="4.55" height="4.14" fill="#fe9f6d"/>
<rect x="143.57" y="196.56" width="4.55" height="4.14" fill="#de4968"/>
<rect x="148.72" y="196.56" width="4.55" height="4.14" fill="#b73779"/>
<rect x="153.87" y="196.56" width="4.55" height="4.14" fill="#cb4070"/>
<rect x="164.18" y="196.56" width="4.55" height="4.14" fill="#280e53"/>
<rect x="184.79" y="196.56" width="4.55" height="4.14" fill="#b73779"/>
<rect x="30.2" y="201.29" width="4.55" height="4.14" fill="#ea5d62"/>
<rect x="81.73" y="201.29" width="4.55" height="4.14" fill="#f7705c"/>
<rect x="86.88" y="201.29" width="4.55" height="4.14" fill="#782180"/>
<rect x="97.19" y="201.29" width="4.55" height="4.14" fill="#b73779"/>
<rect x="117.8" y="201.29" width="4.55" height="4.14" fill="#f7705c"/>
<rect x="122.95" y="201.29" width="4.55" height="4.14" fill="#fe9f6d"/>
<rect x="138.41" y="201.29" width="4.55" height="4.14" fill="#8c2981"/>
<rect x="143.57" y="201.29" width="4.55" height="4.14" fill="#782180"/>
<rect x="148.72" y="201.29" width="4.55" height="4.14" fill="#641a80"/>
<rect x="153.87" y="201.29" width="4.55" height="4.14" fill="#501478"/>
<rect x="169.33" y="201.29" width="4.55" height="4.14" fill="#641a80"/>
<rect x="174.48" y="201.29" width="4.55" height="4.14" fill="#140e36"/>
<rect x="184.79" y="201.29" width="4.55" height="4.14" fill="#8c2981"/>
<rect x="189.94" y="201.29" width="4.55" height="4.14" fill="#140e36"/>
<rect x="30.2" y="206.03" width="4.55" height="4.14" fill="#ea5d62"/>
<rect x="35.35" y="206.03" width="4.55" height="4.14" fill="#641a80"/>
<rect x="40.51" y="206.03" width="4.55" height="4.14" fill="#b73779"/>
<rect x="86.88" y="206.03" width="4.55" height="4.14" fill="#641a80"/>
<rect x="102.34" y="206.03" width="4.55" height="4.14" fill="#140e36"/>
<rect x="117.8" y="206.03" width="4.55" height="4.14" fill="#8c2981"/>
<rect x="143.57" y="206.03" width="4.55" height="4.14" fill="#8c2981"/>
<rect x="148.72" y="206.03" width="4.55" height="4.14" fill="#fa8864"/>
<rect x="153.87" y="206.03" width="4.55" height="4.14" fill="#f7705c"/>
<rect x="184.79" y="206.03" width="4.55" height="4.14" fill="#3b0f70"/>
<rect x="30.2" y="210.76" width="4.55" height="4.14" fill="#ea5d62"/>
<rect x="35.35" y="210.76" width="4.55" height="4.14" fill="#641a80"/>
<rect x="40.51" y="210.76" width="4.55" height="4.14" fill="#b73779"/>
<rect x="86.88" y="210.76" width="4.55" height="4.14" fill="#501478"/>
<rect x="102.34" y="210.76" width="4.55" height="4.14" fill="#140e36"/>
<rect x="117.8" y="210.76" width="4.55" height="4.14" fill="#cb4070"/>
<rect x="133.26" y="210.76" width="4.55" height="4.14" fill="#de4968"/>
<rect x="138.41" y="210.76" width="4.55" height="4.14" fill="#140e36"/>
<rect x="143.57" y="210.76" width="4.55" height="4.14" fill="#b73779"/>
<rect x="148.72" y="210.76" width="4.55" height="4.14" fill="#fe9f6d"/>
<rect x="153.87" y="210.76" width="4.55" height="4.14" fill="#ea5d62"/>
<rect x="184.79" y="210.76" width="4.55" height="4.14" fill="#280e53"/>
<rect x="30.2" y="215.5" width="4.55" height="4.14" fill="#f7705c"/>
<rect x="35.35" y="215.5" width="4.55" height="4.14" fill="#501478"/>
<rect x="40.51" y="215.5" width="4.55" height="4.14" fill="#a2307d"/>
<rect x="86.88" y="215.5" width="4.55" height="4.14" fill="#501478"/>
<rect x="102.34" y="215.5" width="4.55" height="4.14" fill="#641a80"/>
<rect x="117.8" y="215.5" width="4.55" height="4.14" fill="#ea5d62"/>
<rect x="128.11" y="215.5" width="4.55" height="4.14" fill="#cb4070"/>
<rect x="133.26" y="215.5" width="4.55" height="4.14" fill="#f7705c"/>
<rect x="138.41" y="215.5" width="4.55" height="4.14" fill="#280e53"/>
<rect x="143.57" y="215.5" width="4.55" height="4.14" fill="#b73779"/>
<rect x="148.72" y="215.5" width="4.55" height="4.14" fill="#fe9f6d"/>
<rect x="153.87" y="215.5" width="4.55" height="4.14" fill="#ea5d62"/>
<rect x="164.18" y="215.5" width="4.55" height="4.14" fill="#140e36"/>
<rect x="184.79" y="215.5" width="4.55" height="4.14" fill="#641a80"/>
<rect x="30.2" y="220.23" width="4.55" height="4.14" fill="#fecf92"/>
<rect x="40.51" y="220.23" width="4.55" height="4.14" fill="#641a80"/>
<rect x="71.42" y="220.23" width="4.55" height="4.14" fill="#280e53"/>
<rect x="81.73" y="220.23" width="4.55" height="4.14" fill="#fe9f6d"/>
<rect x="86.88" y="220.23" width="4.55" height="4.14" fill="#b73779"/>
<rect x="117.8" y="220.23" width="4.55" height="4.14" fill="#782180"/>
<rect x="143.57" y="220.23" width="4.55" height="4.14" fill="#641a80"/>
<rect x="148.72" y="220.23" width="4.55" height="4.14" fill="#cb4070"/>
<rect x="153.87" y="220.23" width="4.55" height="4.14" fill="#641a80"/>
<rect x="169.33" y="220.23" width="4.55" height="4.14" fill="#641a80"/>
<rect x="184.79" y="220.23" width="4.55" height="4.14" fill="#280e53"/>
<path d="M37.63 34.4L42.78 34.4M37.63 34.4L37.63 39.7M42.78 34.4L42.78 39.7M32.48 31.4L40.21 31.4M32.48 31.4L32.48 39.7M40.21 31.4L40.21 34.4M47.94 35.4L53.09 35.4M47.94 35.4L47.94 39.7M53.09 35.4L53.09 39.7M58.24 37.7L63.39 37.7M58.24 37.7L58.24 39.7M63.39 37.7L63.39 39.7M73.7 37.4L78.85 37.4M73.7 37.4L73.7 39.7M78.85 37.4L78.85 39.7M68.55 34.8L76.28 34.8M68.55 34.8L68.55 39.7M76.28 34.8L76.28 37.4M60.82 35.2L72.41 35.2M60.82 35.2L60.82 37.7M72.41 35.2L72.41 34.8M50.51 32.6L66.62 32.6M50.51 32.6L50.51 35.4M66.62 32.6L66.62 35.2M84.01 33.3L89.16 33.3M84.01 33.3L84.01 39.7M89.16 33.3L89.16 39.7M109.77 35.2L114.92 35.2M109.77 35.2L109.77 39.7M114.92 35.2L114.92 39.7M104.62 33.7L112.35 33.7M104.62 33.7L104.62 39.7M112.35 33.7L112.35 35.2M99.47 32.6L108.48 32.6M99.47 32.6L99.47 39.7M108.48 32.6L108.48 33.7M94.31 31.2L103.97 31.2M94.31 31.2L94.31 39.7M103.97 31.2L103.97 32.6M86.58 29.3L99.14 29.3M86.58 29.3L86.58 33.3M99.14 29.3L99.14 31.2M58.56 27.1L92.86 27.1M58.56 27.1L58.56 32.6M92.86 27.1L92.86 29.3M36.34 26.3L75.71 26.3M36.34 26.3L36.34 31.4M75.71 26.3L75.71 27.1M120.08 30.5L125.23 30.5M120.08 30.5L120.08 39.7M125.23 30.5L125.23 39.7M130.38 29.4L135.54 29.4M130.38 29.4L130.38 39.7M135.54 29.4L135.54 39.7M140.69 32.3L145.84 32.3M140.69 32.3L140.69 39.7M145.84 32.3L145.84 39.7M151 28.3L156.15 28.3M151 28.3L151 39.7M156.15 28.3L156.15 39.7M143.27 26.5L153.57 26.5M143.27 26.5L143.27 32.3M153.57 26.5L153.57 28.3M132.96 24.3L148.42 24.3M132.96 24.3L132.96 29.4M148.42 24.3L148.42 26.5M161.3 32.3L166.45 32.3M161.3 32.3L161.3 39.7M166.45 32.3L166.45 39.7M171.61 30.4L176.76 30.4M171.61 30.4L171.61 39.7M176.76 30.4L176.76 39.7M163.88 27.9L174.18 27.9M163.88 27.9L163.88 32.3M174.18 27.9L174.18 30.4M187.07 31.2L192.22 31.2M187.07 31.2L187.07 39.7M192.22 31.2L192.22 39.7M181.91 27.9L189.64 27.9M181.91 27.9L181.91 39.7M189.64 27.9L189.64 31.2M197.37 25.3L202.53 25.3M197.37 25.3L197.37 39.7M202.53 25.3L202.53 39.7M185.78 23.5L199.95 23.5M185.78 23.5L185.78 27.9M199.95 23.5L199.95 25.3M169.03 22.8L192.86 22.8M169.03 22.8L169.03 27.9M192.86 22.8L192.86 23.5M140.69 18.4L180.95 18.4M140.69 18.4L140.69 24.3M180.95 18.4L180.95 22.8M122.65 17L160.82 17M122.65 17L122.65 30.5M160.82 17L160.82 18.4M56.03 9.4L141.74 9.4M56.03 9.4L56.03 26.3M141.74 9.4L141.74 17" stroke="#6e6e6e" stroke-width="0.9" fill="none" stroke-linecap="square"/>
<text x="207.7" y="44.37" font-size="5.7" fill="#222" text-anchor="start" font-weight="normal">M</text>
<text x="207.7" y="49.1" font-size="5.7" fill="#222" text-anchor="start" font-weight="normal">B</text>
<text x="207.7" y="53.84" font-size="5.7" fill="#222" text-anchor="start" font-weight="normal">DNT_I</text>
<text x="207.7" y="58.57" font-size="5.7" fill="#222" text-anchor="start" font-weight="normal">DNT_II</text>
<text x="207.7" y="63.31" font-size="5.7" fill="#222" text-anchor="start" font-weight="normal">DNT_III</text>
<text x="207.7" y="68.04" font-size="5.7" fill="#222" text-anchor="start" font-weight="normal">ThN_I</text>
<text x="207.7" y="72.78" font-size="5.7" fill="#222" text-anchor="start" font-weight="normal">ThN_II</text>
<text x="207.7" y="77.51" font-size="5.7" fill="#222" text-anchor="start" font-weight="normal">ThN_III</text>
<text x="207.7" y="82.25" font-size="5.7" fill="#222" text-anchor="start" font-weight="normal">ThN_IV</text>
<text x="207.7" y="86.98" font-size="5.7" fill="#222" text-anchor="start" font-weight="normal">ThN_V</text>
<text x="207.7" y="91.72" font-size="5.7" fill="#222" text-anchor="start" font-weight="normal">ThCM_I</text>
<text x="207.7" y="96.45" font-size="5.7" fill="#222" text-anchor="start" font-weight="normal">ThCM_II</text>
<text x="207.7" y="101.19" font-size="5.7" fill="#222" text-anchor="start" font-weight="normal">ThCM_III</text>
<text x="207.7" y="105.92" font-size="5.7" fill="#222" text-anchor="start" font-weight="normal">ThCM_IV</text>
<text x="207.7" y="110.66" font-size="5.7" fill="#222" text-anchor="start" font-weight="normal">ThCM_V</text>
<text x="207.7" y="115.39" font-size="5.7" fill="#222" text-anchor="start" font-weight="normal">ThCM_VI</text>
<text x="207.7" y="120.13" font-size="5.7" fill="#222" text-anchor="start" font-weight="normal">ThEM_I</text>
<text x="207.7" y="124.86" font-size="5.7" fill="#222" text-anchor="start" font-weight="normal">ThEM_II</text>
<text x="207.7" y="129.6" font-size="5.7" fill="#222" text-anchor="start" font-weight="normal">ThEM_III</text>
<text x="207.7" y="134.33" font-size="5.7" fill="#222" text-anchor="start" font-weight="normal">ThEM_IV</text>
<text x="207.7" y="139.07" font-size="5.7" fill="#222" text-anchor="start" font-weight="normal">ThEM_V</text>
<text x="207.7" y="143.8" font-size="5.7" fill="#222" text-anchor="start" font-weight="normal">ThEM_VI</text>
<text x="207.7" y="148.54" font-size="5.7" fill="#222" text-anchor="start" font-weight="normal">ThEM_VII</text>
<text x="207.7" y="153.27" font-size="5.7" fill="#222" text-anchor="start" font-weight="normal">ThEM_VIII</text>
<text x="207.7" y="158.01" font-size="5.7" fill="#222" text-anchor="start" font-weight="normal">ThEM_IX</text>
<text x="207.7" y="162.74" font-size="5.7" fill="#222" text-anchor="start" font-weight="normal">ThEM_X</text>
<text x="207.7" y="167.48" font-size="5.7" fill="#222" text-anchor="start" font-weight="normal">Treg</text>
<text x="207.7" y="172.21" font-size="5.7" fill="#222" text-anchor="start" font-weight="normal">TcN</text>
<text x="207.7" y="176.95" font-size="5.7" fill="#222" text-anchor="start" font-weight="normal">TcEM</text>
<text x="207.7" y="181.68" font-size="5.7" fill="#222" text-anchor="start" font-weight="normal">TcEFF_I</text>
<text x="207.7" y="186.42" font-size="5.7" fill="#222" text-anchor="start" font-weight="normal">TcEFF_II</text>
<text x="207.7" y="191.15" font-size="5.7" fill="#222" text-anchor="start" font-weight="normal">TcEFF_III</text>
<text x="207.7" y="195.89" font-size="5.7" fill="#222" text-anchor="start" font-weight="normal">TcEFF_IV</text>
<text x="207.7" y="200.62" font-size="5.7" fill="#222" text-anchor="start" font-weight="normal">TcEFF_V</text>
<text x="207.7" y="205.36" font-size="5.7" fill="#222" text-anchor="start" font-weight="normal">TcEFF_VI</text>
<text x="207.7" y="210.09" font-size="5.7" fill="#222" text-anchor="start" font-weight="normal">NK_I</text>
<text x="207.7" y="214.83" font-size="5.7" fill="#222" text-anchor="start" font-weight="normal">NK_II</text>
<text x="207.7" y="219.56" font-size="5.7" fill="#222" text-anchor="start" font-weight="normal">NK_III</text>
<text x="207.7" y="224.3" font-size="5.7" fill="#222" text-anchor="start" font-weight="normal">NK_IV</text>
<text transform="translate(32.48 226.97) rotate(90)" font-size="5.1" fill="#222" dominant-baseline="central">GZMB</text>
<text transform="translate(37.63 226.97) rotate(90)" font-size="5.1" fill="#222" dominant-baseline="central">CD38</text>
<text transform="translate(42.78 226.97) rotate(90)" font-size="5.1" fill="#222" dominant-baseline="central">CD39</text>
<text transform="translate(47.94 226.97) rotate(90)" font-size="5.1" fill="#222" dominant-baseline="central">CD16</text>
<text transform="translate(53.09 226.97) rotate(90)" font-size="5.1" fill="#222" dominant-baseline="central">HLADR</text>
<text transform="translate(58.24 226.97) rotate(90)" font-size="5.1" fill="#222" dominant-baseline="central">OX40</text>
<text transform="translate(63.39 226.97) rotate(90)" font-size="5.1" fill="#222" dominant-baseline="central">PDL1</text>
<text transform="translate(68.55 226.97) rotate(90)" font-size="5.1" fill="#222" dominant-baseline="central">CD25</text>
<text transform="translate(73.7 226.97) rotate(90)" font-size="5.1" fill="#222" dominant-baseline="central">41BB</text>
<text transform="translate(78.85 226.97) rotate(90)" font-size="5.1" fill="#222" dominant-baseline="central">LAG3</text>
<text transform="translate(84.01 226.97) rotate(90)" font-size="5.1" fill="#222" dominant-baseline="central">CXCR3</text>
<text transform="translate(89.16 226.97) rotate(90)" font-size="5.1" fill="#222" dominant-baseline="central">Ki67</text>
<text transform="translate(94.31 226.97) rotate(90)" font-size="5.1" fill="#222" dominant-baseline="central">CD69</text>
<text transform="translate(99.47 226.97) rotate(90)" font-size="5.1" fill="#222" dominant-baseline="central">CCR5</text>
<text transform="translate(104.62 226.97) rotate(90)" font-size="5.1" fill="#222" dominant-baseline="central">TIGIT</text>
<text transform="translate(109.77 226.97) rotate(90)" font-size="5.1" fill="#222" dominant-baseline="central">TIM3</text>
<text transform="translate(114.92 226.97) rotate(90)" font-size="5.1" fill="#222" dominant-baseline="central">PD1</text>
<text transform="translate(120.08 226.97) rotate(90)" font-size="5.1" fill="#222" dominant-baseline="central">CD3</text>
<text transform="translate(125.23 226.97) rotate(90)" font-size="5.1" fill="#222" dominant-baseline="central">CD2</text>
<text transform="translate(130.38 226.97) rotate(90)" font-size="5.1" fill="#222" dominant-baseline="central">TNFa</text>
<text transform="translate(135.54 226.97) rotate(90)" font-size="5.1" fill="#222" dominant-baseline="central">IFNg</text>
<text transform="translate(140.69 226.97) rotate(90)" font-size="5.1" fill="#222" dominant-baseline="central">CD8</text>
<text transform="translate(145.84 226.97) rotate(90)" font-size="5.1" fill="#222" dominant-baseline="central">NKG2D</text>
<text transform="translate(151 226.97) rotate(90)" font-size="5.1" fill="#222" dominant-baseline="central">CD7</text>
<text transform="translate(156.15 226.97) rotate(90)" font-size="5.1" fill="#222" dominant-baseline="central">CD45RA</text>
<text transform="translate(161.3 226.97) rotate(90)" font-size="5.1" fill="#222" dominant-baseline="central">CD127</text>
<text transform="translate(166.45 226.97) rotate(90)" font-size="5.1" fill="#222" dominant-baseline="central">CCR7</text>
<text transform="translate(171.61 226.97) rotate(90)" font-size="5.1" fill="#222" dominant-baseline="central">CD27</text>
<text transform="translate(176.76 226.97) rotate(90)" font-size="5.1" fill="#222" dominant-baseline="central">CD4</text>
<text transform="translate(181.91 226.97) rotate(90)" font-size="5.1" fill="#222" dominant-baseline="central">CD95</text>
<text transform="translate(187.07 226.97) rotate(90)" font-size="5.1" fill="#222" dominant-baseline="central">CD28</text>
<text transform="translate(192.22 226.97) rotate(90)" font-size="5.1" fill="#222" dominant-baseline="central">CD45RO</text>
<text transform="translate(197.37 226.97) rotate(90)" font-size="5.1" fill="#222" dominant-baseline="central">IL2</text>
<text transform="translate(202.53 226.97) rotate(90)" font-size="5.1" fill="#222" dominant-baseline="central">CTLA4</text>
<text transform="translate(25 226.97) rotate(90)" font-size="5.3" fill="#111" font-weight="bold" dominant-baseline="central">Cluster</text>
<defs><linearGradient id="cb" x1="0" y1="0" x2="0" y2="1"><stop offset="0" stop-color="#fcfdbf"/><stop offset="0.08" stop-color="#fecf92"/><stop offset="0.15" stop-color="#fe9f6d"/><stop offset="0.23" stop-color="#f7705c"/><stop offset="0.31" stop-color="#de4968"/><stop offset="0.39" stop-color="#b73779"/><stop offset="0.46" stop-color="#8c2981"/><stop offset="0.54" stop-color="#641a80"/><stop offset="0.62" stop-color="#3b0f70"/><stop offset="0.69" stop-color="#140e36"/><stop offset="0.77" stop-color="#000004"/><stop offset="1" stop-color="#000004"/></linearGradient></defs>
<rect x="240.7" y="40.2" width="7.1" height="88" fill="url(#cb)"/>
<text x="249.5" y="54.8" font-size="6" fill="#444" text-anchor="start" font-weight="normal">0.8</text>
<text x="249.5" y="73.5" font-size="6" fill="#444" text-anchor="start" font-weight="normal">0.6</text>
<text x="249.5" y="93.4" font-size="6" fill="#444" text-anchor="start" font-weight="normal">0.4</text>
<text x="249.5" y="112.1" font-size="6" fill="#444" text-anchor="start" font-weight="normal">0.2</text>
<text transform="translate(268.9 43.4) rotate(90)" font-size="7.25" fill="#000" dominant-baseline="central">Average marker expression</text>
<text x="357.6" y="8.3" font-size="11.4" fill="#000" text-anchor="start" font-weight="bold">b</text>
<rect x="382.2" y="32.6" width="175.5" height="194.1" fill="#ebebeb"/>
<line x1="382.2" y1="195.95" x2="557.7" y2="195.95" stroke="#f7f7f7" stroke-width="0.5"/>
<line x1="382.2" y1="151.85" x2="557.7" y2="151.85" stroke="#f7f7f7" stroke-width="0.5"/>
<line x1="382.2" y1="107.75" x2="557.7" y2="107.75" stroke="#f7f7f7" stroke-width="0.5"/>
<line x1="382.2" y1="63.65" x2="557.7" y2="63.65" stroke="#f7f7f7" stroke-width="0.5"/>
<line x1="382.2" y1="218" x2="557.7" y2="218" stroke="#ffffff" stroke-width="1"/>
<line x1="382.2" y1="173.9" x2="557.7" y2="173.9" stroke="#ffffff" stroke-width="1"/>
<line x1="382.2" y1="129.8" x2="557.7" y2="129.8" stroke="#ffffff" stroke-width="1"/>
<line x1="382.2" y1="85.7" x2="557.7" y2="85.7" stroke="#ffffff" stroke-width="1"/>
<line x1="382.2" y1="41.6" x2="557.7" y2="41.6" stroke="#ffffff" stroke-width="1"/>
<line x1="415.3" y1="32.6" x2="415.3" y2="226.7" stroke="#ffffff" stroke-width="1"/>
<line x1="470.3" y1="32.6" x2="470.3" y2="226.7" stroke="#ffffff" stroke-width="1"/>
<line x1="525.3" y1="32.6" x2="525.3" y2="226.7" stroke="#ffffff" stroke-width="1"/>
<rect x="390.5" y="41.7" width="49.6" height="11.22" fill="#ff0000"/>
<rect x="390.5" y="52.9" width="49.6" height="1.52" fill="#6a3dc9"/>
<rect x="390.5" y="54.4" width="49.6" height="1.42" fill="#ff7f00"/>
<rect x="390.5" y="55.8" width="49.6" height="38.02" fill="#1f78c8"/>
<rect x="390.5" y="93.8" width="49.6" height="3.12" fill="#8c7400"/>
<rect x="390.5" y="96.9" width="49.6" height="7.92" fill="#a0cd00"/>
<rect x="390.5" y="104.8" width="49.6" height="3.02" fill="#c0008a"/>
<rect x="390.5" y="107.8" width="49.6" height="1.22" fill="#00307f"/>
<rect x="390.5" y="109" width="49.6" height="2.32" fill="#1a1a1a"/>
<rect x="390.5" y="111.3" width="49.6" height="0.92" fill="#00562f"/>
<rect x="390.5" y="112.2" width="49.6" height="1.32" fill="#2bcb4e"/>
<rect x="390.5" y="113.5" width="49.6" height="2.72" fill="#ffcb96"/>
<rect x="390.5" y="116.2" width="49.6" height="8.62" fill="#828282"/>
<rect x="390.5" y="124.8" width="49.6" height="2.12" fill="#9affb5"/>
<rect x="390.5" y="126.9" width="49.6" height="4.42" fill="#4a0057"/>
<rect x="390.5" y="131.3" width="49.6" height="8.42" fill="#8f3a00"/>
<rect x="390.5" y="139.7" width="49.6" height="4.32" fill="#c8afd9"/>
<rect x="390.5" y="144" width="49.6" height="1.02" fill="#fdb56f"/>
<rect x="390.5" y="145" width="49.6" height="1.82" fill="#9a9a9a"/>
<rect x="390.5" y="146.8" width="49.6" height="9.22" fill="#eee185"/>
<rect x="390.5" y="156" width="49.6" height="2.92" fill="#c83490"/>
<rect x="390.5" y="158.9" width="49.6" height="1.62" fill="#ff80f5"/>
<rect x="390.5" y="160.5" width="49.6" height="1.02" fill="#c60fff"/>
<rect x="390.5" y="161.5" width="49.6" height="2.92" fill="#0000ff"/>
<rect x="390.5" y="164.4" width="49.6" height="0.82" fill="#36648b"/>
<rect x="390.5" y="165.2" width="49.6" height="2.12" fill="#00e0e8"/>
<rect x="390.5" y="167.3" width="49.6" height="1.32" fill="#a02a3a"/>
<rect x="390.5" y="168.6" width="49.6" height="1.72" fill="#00ff00"/>
<rect x="390.5" y="170.3" width="49.6" height="6.02" fill="#7a8800"/>
<rect x="390.5" y="176.3" width="49.6" height="0.52" fill="#bdb500"/>
<rect x="390.5" y="176.8" width="49.6" height="1.22" fill="#8b3300"/>
<rect x="390.5" y="178" width="49.6" height="3.02" fill="#ee9cff"/>
<rect x="390.5" y="181" width="49.6" height="14.32" fill="#555555"/>
<rect x="390.5" y="195.3" width="49.6" height="6.42" fill="#ffd700"/>
<rect x="390.5" y="201.7" width="49.6" height="6.82" fill="#a6cee3"/>
<rect x="390.5" y="208.5" width="49.6" height="4.82" fill="#fa6494"/>
<rect x="390.5" y="213.3" width="49.6" height="1.22" fill="#b2df8a"/>
<rect x="390.5" y="214.5" width="49.6" height="3.52" fill="#0a72dc"/>
<rect x="445.5" y="41.7" width="49.6" height="8.62" fill="#ff0000"/>
<rect x="445.5" y="50.3" width="49.6" height="1.42" fill="#6a3dc9"/>
<rect x="445.5" y="51.7" width="49.6" height="1.92" fill="#ff7f00"/>
<rect x="445.5" y="53.6" width="49.6" height="42.62" fill="#1f78c8"/>
<rect x="445.5" y="96.2" width="49.6" height="2.82" fill="#8c7400"/>
<rect x="445.5" y="99" width="49.6" height="7.42" fill="#a0cd00"/>
<rect x="445.5" y="106.4" width="49.6" height="2.62" fill="#c0008a"/>
<rect x="445.5" y="109" width="49.6" height="1.32" fill="#00307f"/>
<rect x="445.5" y="110.3" width="49.6" height="1.62" fill="#1a1a1a"/>
<rect x="445.5" y="111.9" width="49.6" height="0.82" fill="#00562f"/>
<rect x="445.5" y="112.7" width="49.6" height="2.12" fill="#2bcb4e"/>
<rect x="445.5" y="114.8" width="49.6" height="3.22" fill="#ffcb96"/>
<rect x="445.5" y="118" width="49.6" height="8.72" fill="#828282"/>
<rect x="445.5" y="126.7" width="49.6" height="2.12" fill="#9affb5"/>
<rect x="445.5" y="128.8" width="49.6" height="3.92" fill="#4a0057"/>
<rect x="445.5" y="132.7" width="49.6" height="9.22" fill="#8f3a00"/>
<rect x="445.5" y="141.9" width="49.6" height="4.62" fill="#c8afd9"/>
<rect x="445.5" y="146.5" width="49.6" height="1.42" fill="#fdb56f"/>
<rect x="445.5" y="147.9" width="49.6" height="1.02" fill="#9a9a9a"/>
<rect x="445.5" y="148.9" width="49.6" height="8.12" fill="#eee185"/>
<rect x="445.5" y="157" width="49.6" height="3.82" fill="#c83490"/>
<rect x="445.5" y="160.8" width="49.6" height="1.12" fill="#ff80f5"/>
<rect x="445.5" y="161.9" width="49.6" height="1.72" fill="#c60fff"/>
<rect x="445.5" y="163.6" width="49.6" height="2.72" fill="#0000ff"/>
<rect x="445.5" y="166.3" width="49.6" height="0.82" fill="#36648b"/>
<rect x="445.5" y="167.1" width="49.6" height="2.12" fill="#00e0e8"/>
<rect x="445.5" y="169.2" width="49.6" height="0.82" fill="#a02a3a"/>
<rect x="445.5" y="170" width="49.6" height="2.02" fill="#00ff00"/>
<rect x="445.5" y="172" width="49.6" height="6.42" fill="#7a8800"/>
<rect x="445.5" y="178.4" width="49.6" height="0.52" fill="#bdb500"/>
<rect x="445.5" y="178.9" width="49.6" height="0.52" fill="#8b3300"/>
<rect x="445.5" y="179.4" width="49.6" height="2.62" fill="#ee9cff"/>
<rect x="445.5" y="182" width="49.6" height="14.52" fill="#555555"/>
<rect x="445.5" y="196.5" width="49.6" height="5.42" fill="#ffd700"/>
<rect x="445.5" y="201.9" width="49.6" height="6.92" fill="#a6cee3"/>
<rect x="445.5" y="208.8" width="49.6" height="4.92" fill="#fa6494"/>
<rect x="445.5" y="213.7" width="49.6" height="1.02" fill="#b2df8a"/>
<rect x="445.5" y="214.7" width="49.6" height="3.32" fill="#0a72dc"/>
<rect x="500.5" y="41.7" width="49.6" height="6.22" fill="#ff0000"/>
<rect x="500.5" y="47.9" width="49.6" height="1.02" fill="#6a3dc9"/>
<rect x="500.5" y="48.9" width="49.6" height="1.22" fill="#6f7094"/>
<rect x="500.5" y="50.1" width="49.6" height="42.62" fill="#1f78c8"/>
<rect x="500.5" y="92.7" width="49.6" height="4.22" fill="#8c7400"/>
<rect x="500.5" y="96.9" width="49.6" height="7.12" fill="#a0cd00"/>
<rect x="500.5" y="104" width="49.6" height="4.02" fill="#c0008a"/>
<rect x="500.5" y="108" width="49.6" height="2.62" fill="#00307f"/>
<rect x="500.5" y="110.6" width="49.6" height="1.22" fill="#1a1a1a"/>
<rect x="500.5" y="111.8" width="49.6" height="0.52" fill="#00562f"/>
<rect x="500.5" y="112.3" width="49.6" height="2.02" fill="#2bcb4e"/>
<rect x="500.5" y="114.3" width="49.6" height="2.62" fill="#ffcb96"/>
<rect x="500.5" y="116.9" width="49.6" height="6.92" fill="#828282"/>
<rect x="500.5" y="123.8" width="49.6" height="2.02" fill="#9affb5"/>
<rect x="500.5" y="125.8" width="49.6" height="3.22" fill="#4a0057"/>
<rect x="500.5" y="129" width="49.6" height="6.82" fill="#8f3a00"/>
<rect x="500.5" y="135.8" width="49.6" height="6.82" fill="#c8afd9"/>
<rect x="500.5" y="142.6" width="49.6" height="1.82" fill="#fdb56f"/>
<rect x="500.5" y="144.4" width="49.6" height="2.12" fill="#9a9a9a"/>
<rect x="500.5" y="146.5" width="49.6" height="7.42" fill="#eee185"/>
<rect x="500.5" y="153.9" width="49.6" height="2.72" fill="#c83490"/>
<rect x="500.5" y="156.6" width="49.6" height="1.12" fill="#ff80f5"/>
<rect x="500.5" y="157.7" width="49.6" height="2.32" fill="#c60fff"/>
<rect x="500.5" y="160" width="49.6" height="3.32" fill="#0000ff"/>
<rect x="500.5" y="163.3" width="49.6" height="0.72" fill="#36648b"/>
<rect x="500.5" y="164" width="49.6" height="2.12" fill="#00e0e8"/>
<rect x="500.5" y="166.1" width="49.6" height="0.72" fill="#a02a3a"/>
<rect x="500.5" y="166.8" width="49.6" height="2.12" fill="#00ff00"/>
<rect x="500.5" y="168.9" width="49.6" height="3.92" fill="#7a8800"/>
<rect x="500.5" y="172.8" width="49.6" height="1.02" fill="#bdb500"/>
<rect x="500.5" y="173.8" width="49.6" height="1.12" fill="#8b3300"/>
<rect x="500.5" y="174.9" width="49.6" height="1.42" fill="#ee9cff"/>
<rect x="500.5" y="176.3" width="49.6" height="19.42" fill="#555555"/>
<rect x="500.5" y="195.7" width="49.6" height="4.42" fill="#ffd700"/>
<rect x="500.5" y="200.1" width="49.6" height="7.92" fill="#a6cee3"/>
<rect x="500.5" y="208" width="49.6" height="4.92" fill="#fa6494"/>
<rect x="500.5" y="212.9" width="49.6" height="1.02" fill="#b2df8a"/>
<rect x="500.5" y="213.9" width="49.6" height="4.12" fill="#0a72dc"/>
<line x1="380.1" y1="218" x2="382.2" y2="218" stroke="#333" stroke-width="0.5"/>
<text x="379.2" y="219.8" font-size="4.85" fill="#4d4d4d" text-anchor="end" font-weight="normal">0.00</text>
<line x1="380.1" y1="173.9" x2="382.2" y2="173.9" stroke="#333" stroke-width="0.5"/>
<text x="379.2" y="175.7" font-size="4.85" fill="#4d4d4d" text-anchor="end" font-weight="normal">0.25</text>
<line x1="380.1" y1="129.8" x2="382.2" y2="129.8" stroke="#333" stroke-width="0.5"/>
<text x="379.2" y="131.6" font-size="4.85" fill="#4d4d4d" text-anchor="end" font-weight="normal">0.50</text>
<line x1="380.1" y1="85.7" x2="382.2" y2="85.7" stroke="#333" stroke-width="0.5"/>
<text x="379.2" y="87.5" font-size="4.85" fill="#4d4d4d" text-anchor="end" font-weight="normal">0.75</text>
<line x1="380.1" y1="41.6" x2="382.2" y2="41.6" stroke="#333" stroke-width="0.5"/>
<text x="379.2" y="43.4" font-size="4.85" fill="#4d4d4d" text-anchor="end" font-weight="normal">1.00</text>
<line x1="415.3" y1="226.7" x2="415.3" y2="228.3" stroke="#333" stroke-width="0.5"/>
<text x="415.3" y="234.1" font-size="4.85" fill="#4d4d4d" text-anchor="middle" font-weight="normal">Baseline</text>
<line x1="470.3" y1="226.7" x2="470.3" y2="228.3" stroke="#333" stroke-width="0.5"/>
<text x="470.3" y="234.1" font-size="4.85" fill="#4d4d4d" text-anchor="middle" font-weight="normal">C1D1</text>
<line x1="525.3" y1="226.7" x2="525.3" y2="228.3" stroke="#333" stroke-width="0.5"/>
<text x="525.3" y="234.1" font-size="4.85" fill="#4d4d4d" text-anchor="middle" font-weight="normal">C2D1</text>
<text x="470.1" y="241.6" font-size="6.3" fill="#111" text-anchor="middle" font-weight="normal">Time point</text>
<text transform="translate(366.9 129.7) rotate(-90)" font-size="6.4" fill="#111" text-anchor="middle">Cell proportions</text>
<rect x="568.1" y="31.2" width="8.9" height="8.9" fill="#ff0000"/>
<text x="580.7" y="37.5" font-size="4.85" fill="#222" text-anchor="start" font-weight="normal">B</text>
<rect x="568.1" y="41.61" width="8.9" height="8.9" fill="#33a02c"/>
<text x="580.7" y="47.91" font-size="4.85" fill="#222" text-anchor="start" font-weight="normal">DNT_I</text>
<rect x="568.1" y="52.02" width="8.9" height="8.9" fill="#6a3dc9"/>
<text x="580.7" y="58.32" font-size="4.85" fill="#222" text-anchor="start" font-weight="normal">DNT_II</text>
<rect x="568.1" y="62.43" width="8.9" height="8.9" fill="#ff7f00"/>
<text x="580.7" y="68.73" font-size="4.85" fill="#222" text-anchor="start" font-weight="normal">DNT_III</text>
<rect x="568.1" y="72.84" width="8.9" height="8.9" fill="#1f78c8"/>
<text x="580.7" y="79.14" font-size="4.85" fill="#222" text-anchor="start" font-weight="normal">M</text>
<rect x="568.1" y="83.25" width="8.9" height="8.9" fill="#8c7400"/>
<text x="580.7" y="89.55" font-size="4.85" fill="#222" text-anchor="start" font-weight="normal">NK_I</text>
<rect x="568.1" y="93.66" width="8.9" height="8.9" fill="#a0cd00"/>
<text x="580.7" y="99.96" font-size="4.85" fill="#222" text-anchor="start" font-weight="normal">NK_II</text>
<rect x="568.1" y="104.07" width="8.9" height="8.9" fill="#c0008a"/>
<text x="580.7" y="110.37" font-size="4.85" fill="#222" text-anchor="start" font-weight="normal">NK_III</text>
<rect x="568.1" y="114.48" width="8.9" height="8.9" fill="#00307f"/>
<text x="580.7" y="120.78" font-size="4.85" fill="#222" text-anchor="start" font-weight="normal">NK_IV</text>
<rect x="568.1" y="124.89" width="8.9" height="8.9" fill="#1a1a1a"/>
<text x="580.7" y="131.19" font-size="4.85" fill="#222" text-anchor="start" font-weight="normal">TcEFF_I</text>
<rect x="568.1" y="135.3" width="8.9" height="8.9" fill="#00562f"/>
<text x="580.7" y="141.6" font-size="4.85" fill="#222" text-anchor="start" font-weight="normal">TcEFF_II</text>
<rect x="568.1" y="145.71" width="8.9" height="8.9" fill="#2bcb4e"/>
<text x="580.7" y="152.01" font-size="4.85" fill="#222" text-anchor="start" font-weight="normal">TcEFF_III</text>
<rect x="568.1" y="156.12" width="8.9" height="8.9" fill="#ffcb96"/>
<text x="580.7" y="162.42" font-size="4.85" fill="#222" text-anchor="start" font-weight="normal">TcEFF_IV</text>
<rect x="568.1" y="166.53" width="8.9" height="8.9" fill="#828282"/>
<text x="580.7" y="172.83" font-size="4.85" fill="#222" text-anchor="start" font-weight="normal">TcEFF_V</text>
<rect x="568.1" y="176.94" width="8.9" height="8.9" fill="#9affb5"/>
<text x="580.7" y="183.24" font-size="4.85" fill="#222" text-anchor="start" font-weight="normal">TcEFF_VI</text>
<rect x="568.1" y="187.35" width="8.9" height="8.9" fill="#4a0057"/>
<text x="580.7" y="193.65" font-size="4.85" fill="#222" text-anchor="start" font-weight="normal">TcEM</text>
<rect x="568.1" y="197.76" width="8.9" height="8.9" fill="#8f3a00"/>
<text x="580.7" y="204.06" font-size="4.85" fill="#222" text-anchor="start" font-weight="normal">TcN</text>
<rect x="568.1" y="208.17" width="8.9" height="8.9" fill="#c8afd9"/>
<text x="580.7" y="214.47" font-size="4.85" fill="#222" text-anchor="start" font-weight="normal">ThCM_I</text>
<rect x="568.1" y="218.58" width="8.9" height="8.9" fill="#fdb56f"/>
<text x="580.7" y="224.88" font-size="4.85" fill="#222" text-anchor="start" font-weight="normal">ThCM_II</text>
<rect x="568.1" y="228.99" width="8.9" height="8.9" fill="#9a9a9a"/>
<text x="580.7" y="235.29" font-size="4.85" fill="#222" text-anchor="start" font-weight="normal">ThCM_III</text>
<rect x="606.6" y="31.2" width="8.9" height="8.9" fill="#eee185"/>
<text x="619.2" y="37.5" font-size="4.85" fill="#222" text-anchor="start" font-weight="normal">ThCM_IV</text>
<rect x="606.6" y="41.61" width="8.9" height="8.9" fill="#c83490"/>
<text x="619.2" y="47.91" font-size="4.85" fill="#222" text-anchor="start" font-weight="normal">ThCM_V</text>
<rect x="606.6" y="52.02" width="8.9" height="8.9" fill="#ff80f5"/>
<text x="619.2" y="58.32" font-size="4.85" fill="#222" text-anchor="start" font-weight="normal">ThCM_VI</text>
<rect x="606.6" y="62.43" width="8.9" height="8.9" fill="#c60fff"/>
<text x="619.2" y="68.73" font-size="4.85" fill="#222" text-anchor="start" font-weight="normal">ThEM_I</text>
<rect x="606.6" y="72.84" width="8.9" height="8.9" fill="#0000ff"/>
<text x="619.2" y="79.14" font-size="4.85" fill="#222" text-anchor="start" font-weight="normal">ThEM_II</text>
<rect x="606.6" y="83.25" width="8.9" height="8.9" fill="#36648b"/>
<text x="619.2" y="89.55" font-size="4.85" fill="#222" text-anchor="start" font-weight="normal">ThEM_III</text>
<rect x="606.6" y="93.66" width="8.9" height="8.9" fill="#00e0e8"/>
<text x="619.2" y="99.96" font-size="4.85" fill="#222" text-anchor="start" font-weight="normal">ThEM_IV</text>
<rect x="606.6" y="104.07" width="8.9" height="8.9" fill="#a02a3a"/>
<text x="619.2" y="110.37" font-size="4.85" fill="#222" text-anchor="start" font-weight="normal">ThEM_IX</text>
<rect x="606.6" y="114.48" width="8.9" height="8.9" fill="#00ff00"/>
<text x="619.2" y="120.78" font-size="4.85" fill="#222" text-anchor="start" font-weight="normal">ThEM_V</text>
<rect x="606.6" y="124.89" width="8.9" height="8.9" fill="#7a8800"/>
<text x="619.2" y="131.19" font-size="4.85" fill="#222" text-anchor="start" font-weight="normal">ThEM_VI</text>
<rect x="606.6" y="135.3" width="8.9" height="8.9" fill="#bdb500"/>
<text x="619.2" y="141.6" font-size="4.85" fill="#222" text-anchor="start" font-weight="normal">ThEM_VII</text>
<rect x="606.6" y="145.71" width="8.9" height="8.9" fill="#8b3300"/>
<text x="619.2" y="152.01" font-size="4.85" fill="#222" text-anchor="start" font-weight="normal">ThEM_VIII</text>
<rect x="606.6" y="156.12" width="8.9" height="8.9" fill="#ee9cff"/>
<text x="619.2" y="162.42" font-size="4.85" fill="#222" text-anchor="start" font-weight="normal">ThEM_X</text>
<rect x="606.6" y="166.53" width="8.9" height="8.9" fill="#555555"/>
<text x="619.2" y="172.83" font-size="4.85" fill="#222" text-anchor="start" font-weight="normal">ThN_I</text>
<rect x="606.6" y="176.94" width="8.9" height="8.9" fill="#ffd700"/>
<text x="619.2" y="183.24" font-size="4.85" fill="#222" text-anchor="start" font-weight="normal">ThN_II</text>
<rect x="606.6" y="187.35" width="8.9" height="8.9" fill="#a6cee3"/>
<text x="619.2" y="193.65" font-size="4.85" fill="#222" text-anchor="start" font-weight="normal">ThN_III</text>
<rect x="606.6" y="197.76" width="8.9" height="8.9" fill="#fa6494"/>
<text x="619.2" y="204.06" font-size="4.85" fill="#222" text-anchor="start" font-weight="normal">ThN_IV</text>
<rect x="606.6" y="208.17" width="8.9" height="8.9" fill="#b2df8a"/>
<text x="619.2" y="214.47" font-size="4.85" fill="#222" text-anchor="start" font-weight="normal">ThN_V</text>
<rect x="606.6" y="218.58" width="8.9" height="8.9" fill="#0a72dc"/>
<text x="619.2" y="224.88" font-size="4.85" fill="#222" text-anchor="start" font-weight="normal">Treg</text>
<text x="37.2" y="268.4" font-size="10.2" fill="#000" text-anchor="start" font-weight="bold">c</text>
<line x1="75.8" y1="303.49" x2="111.5" y2="343.14" stroke="#f8766d" stroke-width="0.8"/>
<line x1="75.8" y1="330.34" x2="111.5" y2="332.4" stroke="#f8766d" stroke-width="0.8"/>
<line x1="75.8" y1="336.94" x2="111.5" y2="299.36" stroke="#f8766d" stroke-width="0.8"/>
<line x1="75.8" y1="339.42" x2="111.5" y2="303.49" stroke="#f8766d" stroke-width="0.8"/>
<line x1="75.8" y1="346.86" x2="111.5" y2="329.92" stroke="#f8766d" stroke-width="0.8"/>
<line x1="75.8" y1="348.09" x2="111.5" y2="347.68" stroke="#f8766d" stroke-width="0.8"/>
<line x1="75.8" y1="349.33" x2="111.5" y2="354.7" stroke="#f8766d" stroke-width="0.8"/>
<line x1="75.8" y1="356.35" x2="111.5" y2="354.7" stroke="#619cff" stroke-width="0.8"/>
<line x1="75.8" y1="357.18" x2="111.5" y2="333.23" stroke="#f8766d" stroke-width="0.8"/>
<line x1="75.8" y1="358.42" x2="111.5" y2="352.22" stroke="#619cff" stroke-width="0.8"/>
<line x1="75.8" y1="362.14" x2="111.5" y2="351.4" stroke="#f8766d" stroke-width="0.8"/>
<line x1="75.8" y1="365.03" x2="111.5" y2="357.18" stroke="#f8766d" stroke-width="0.8"/>
<line x1="75.8" y1="365.85" x2="111.5" y2="331.57" stroke="#f8766d" stroke-width="0.8"/>
<line x1="75.8" y1="366.27" x2="111.5" y2="359.25" stroke="#f8766d" stroke-width="0.8"/>
<line x1="75.8" y1="367.92" x2="111.5" y2="361.31" stroke="#f8766d" stroke-width="0.8"/>
<line x1="75.8" y1="368.74" x2="111.5" y2="355.53" stroke="#f8766d" stroke-width="0.8"/>
<line x1="75.8" y1="369.57" x2="111.5" y2="363.38" stroke="#f8766d" stroke-width="0.8"/>
<line x1="75.8" y1="371.22" x2="111.5" y2="358.01" stroke="#f8766d" stroke-width="0.8"/>
<line x1="75.8" y1="372.05" x2="111.5" y2="367.5" stroke="#f8766d" stroke-width="0.8"/>
<line x1="75.8" y1="373.29" x2="111.5" y2="356.35" stroke="#f8766d" stroke-width="0.8"/>
<line x1="75.8" y1="374.53" x2="111.5" y2="369.98" stroke="#f8766d" stroke-width="0.8"/>
<line x1="75.8" y1="375.76" x2="111.5" y2="360.48" stroke="#f8766d" stroke-width="0.8"/>
<line x1="75.8" y1="377" x2="111.5" y2="372.05" stroke="#f8766d" stroke-width="0.8"/>
<line x1="75.8" y1="377.83" x2="111.5" y2="375.35" stroke="#f8766d" stroke-width="0.8"/>
<line x1="75.8" y1="378.66" x2="111.5" y2="377" stroke="#f8766d" stroke-width="0.8"/>
<line x1="75.8" y1="384.03" x2="111.5" y2="387.74" stroke="#619cff" stroke-width="0.8"/>
<line x1="75.8" y1="384.44" x2="111.5" y2="377.83" stroke="#f8766d" stroke-width="0.8"/>
<line x1="75.8" y1="385.26" x2="111.5" y2="380.31" stroke="#f8766d" stroke-width="0.8"/>
<line x1="111.5" y1="299.36" x2="147.7" y2="294.4" stroke="#f8766d" stroke-width="0.8"/>
<line x1="111.5" y1="303.49" x2="147.7" y2="308.45" stroke="#f8766d" stroke-width="0.8"/>
<line x1="111.5" y1="329.92" x2="147.7" y2="309.69" stroke="#f8766d" stroke-width="0.8"/>
<line x1="111.5" y1="332.4" x2="147.7" y2="317.12" stroke="#f8766d" stroke-width="0.8"/>
<line x1="111.5" y1="333.23" x2="147.7" y2="363.38" stroke="#f8766d" stroke-width="0.8"/>
<line x1="111.5" y1="343.14" x2="147.7" y2="364.2" stroke="#f8766d" stroke-width="0.8"/>
<line x1="111.5" y1="354.7" x2="147.7" y2="350.57" stroke="#f8766d" stroke-width="0.8"/>
<line x1="111.5" y1="387.74" x2="147.7" y2="365.44" stroke="#619cff" stroke-width="0.8"/>
<line x1="75.8" y1="330.5" x2="75.8" y2="354.6" stroke="#111" stroke-width="0.8"/>
<line x1="75.8" y1="373.7" x2="75.8" y2="384.3" stroke="#111" stroke-width="0.8"/>
<rect x="66.6" y="354.6" width="18.2" height="19.1" fill="none" stroke="#3a3a3a" stroke-width="0.8"/>
<line x1="66.6" y1="367.3" x2="84.8" y2="367.3" stroke="#000" stroke-width="1.5"/>
<line x1="111.5" y1="329.8" x2="111.5" y2="343.2" stroke="#111" stroke-width="0.8"/>
<line x1="111.5" y1="364.5" x2="111.5" y2="387.7" stroke="#111" stroke-width="0.8"/>
<rect x="102.8" y="343.2" width="17.9" height="21.3" fill="none" stroke="#3a3a3a" stroke-width="0.8"/>
<line x1="102.8" y1="356.2" x2="120.7" y2="356.2" stroke="#000" stroke-width="1.5"/>
<line x1="147.7" y1="294.2" x2="147.7" y2="309.5" stroke="#111" stroke-width="0.8"/>
<line x1="147.7" y1="362.7" x2="147.7" y2="365.6" stroke="#111" stroke-width="0.8"/>
<rect x="138.7" y="309.5" width="18.2" height="53.2" fill="none" stroke="#3a3a3a" stroke-width="0.8"/>
<line x1="138.7" y1="333.2" x2="156.9" y2="333.2" stroke="#000" stroke-width="1.5"/>
<circle cx="75.8" cy="303.49" r="1.2" fill="#000"/>
<circle cx="111.5" cy="343.14" r="1.2" fill="#000"/>
<circle cx="75.8" cy="330.34" r="1.2" fill="#000"/>
<circle cx="111.5" cy="332.4" r="1.2" fill="#000"/>
<circle cx="75.8" cy="336.94" r="1.2" fill="#000"/>
<circle cx="111.5" cy="299.36" r="1.2" fill="#000"/>
<circle cx="75.8" cy="339.42" r="1.2" fill="#000"/>
<circle cx="111.5" cy="303.49" r="1.2" fill="#000"/>
<circle cx="75.8" cy="346.86" r="1.2" fill="#000"/>
<circle cx="111.5" cy="329.92" r="1.2" fill="#000"/>
<circle cx="75.8" cy="348.09" r="1.2" fill="#000"/>
<circle cx="111.5" cy="347.68" r="1.2" fill="#000"/>
<circle cx="75.8" cy="349.33" r="1.2" fill="#000"/>
<circle cx="111.5" cy="354.7" r="1.2" fill="#000"/>
<circle cx="75.8" cy="356.35" r="1.2" fill="#000"/>
<circle cx="111.5" cy="354.7" r="1.2" fill="#000"/>
<circle cx="75.8" cy="357.18" r="1.2" fill="#000"/>
<circle cx="111.5" cy="333.23" r="1.2" fill="#000"/>
<circle cx="75.8" cy="358.42" r="1.2" fill="#000"/>
<circle cx="111.5" cy="352.22" r="1.2" fill="#000"/>
<circle cx="75.8" cy="362.14" r="1.2" fill="#000"/>
<circle cx="111.5" cy="351.4" r="1.2" fill="#000"/>
<circle cx="75.8" cy="365.03" r="1.2" fill="#000"/>
<circle cx="111.5" cy="357.18" r="1.2" fill="#000"/>
<circle cx="75.8" cy="365.85" r="1.2" fill="#000"/>
<circle cx="111.5" cy="331.57" r="1.2" fill="#000"/>
<circle cx="75.8" cy="366.27" r="1.2" fill="#000"/>
<circle cx="111.5" cy="359.25" r="1.2" fill="#000"/>
<circle cx="75.8" cy="367.92" r="1.2" fill="#000"/>
<circle cx="111.5" cy="361.31" r="1.2" fill="#000"/>
<circle cx="75.8" cy="368.74" r="1.2" fill="#000"/>
<circle cx="111.5" cy="355.53" r="1.2" fill="#000"/>
<circle cx="75.8" cy="369.57" r="1.2" fill="#000"/>
<circle cx="111.5" cy="363.38" r="1.2" fill="#000"/>
<circle cx="75.8" cy="371.22" r="1.2" fill="#000"/>
<circle cx="111.5" cy="358.01" r="1.2" fill="#000"/>
<circle cx="75.8" cy="372.05" r="1.2" fill="#000"/>
<circle cx="111.5" cy="367.5" r="1.2" fill="#000"/>
<circle cx="75.8" cy="373.29" r="1.2" fill="#000"/>
<circle cx="111.5" cy="356.35" r="1.2" fill="#000"/>
<circle cx="75.8" cy="374.53" r="1.2" fill="#000"/>
<circle cx="111.5" cy="369.98" r="1.2" fill="#000"/>
<circle cx="75.8" cy="375.76" r="1.2" fill="#000"/>
<circle cx="111.5" cy="360.48" r="1.2" fill="#000"/>
<circle cx="75.8" cy="377" r="1.2" fill="#000"/>
<circle cx="111.5" cy="372.05" r="1.2" fill="#000"/>
<circle cx="75.8" cy="377.83" r="1.2" fill="#000"/>
<circle cx="111.5" cy="375.35" r="1.2" fill="#000"/>
<circle cx="75.8" cy="378.66" r="1.2" fill="#000"/>
<circle cx="111.5" cy="377" r="1.2" fill="#000"/>
<circle cx="75.8" cy="384.03" r="1.2" fill="#000"/>
<circle cx="111.5" cy="387.74" r="1.2" fill="#000"/>
<circle cx="75.8" cy="384.44" r="1.2" fill="#000"/>
<circle cx="111.5" cy="377.83" r="1.2" fill="#000"/>
<circle cx="75.8" cy="385.26" r="1.2" fill="#000"/>
<circle cx="111.5" cy="380.31" r="1.2" fill="#000"/>
<circle cx="111.5" cy="299.36" r="1.2" fill="#000"/>
<circle cx="147.7" cy="294.4" r="1.2" fill="#000"/>
<circle cx="111.5" cy="303.49" r="1.2" fill="#000"/>
<circle cx="147.7" cy="308.45" r="1.2" fill="#000"/>
<circle cx="111.5" cy="329.92" r="1.2" fill="#000"/>
<circle cx="147.7" cy="309.69" r="1.2" fill="#000"/>
<circle cx="111.5" cy="332.4" r="1.2" fill="#000"/>
<circle cx="147.7" cy="317.12" r="1.2" fill="#000"/>
<circle cx="111.5" cy="333.23" r="1.2" fill="#000"/>
<circle cx="147.7" cy="363.38" r="1.2" fill="#000"/>
<circle cx="111.5" cy="343.14" r="1.2" fill="#000"/>
<circle cx="147.7" cy="364.2" r="1.2" fill="#000"/>
<circle cx="111.5" cy="354.7" r="1.2" fill="#000"/>
<circle cx="147.7" cy="350.57" r="1.2" fill="#000"/>
<circle cx="111.5" cy="387.74" r="1.2" fill="#000"/>
<circle cx="147.7" cy="365.44" r="1.2" fill="#000"/>
<line x1="54" y1="289.5" x2="54" y2="392.2" stroke="#b4b4b4" stroke-width="1"/>
<line x1="53.5" y1="391.7" x2="168.9" y2="391.7" stroke="#b4b4b4" stroke-width="1"/>
<line x1="51.8" y1="373.7" x2="54" y2="373.7" stroke="#222" stroke-width="0.9"/>
<text x="50.1" y="376.5" font-size="7.9" fill="#151515" text-anchor="end" font-weight="normal">0.5</text>
<line x1="51.8" y1="353.05" x2="54" y2="353.05" stroke="#222" stroke-width="0.9"/>
<text x="50.1" y="355.85" font-size="7.9" fill="#151515" text-anchor="end" font-weight="normal">1.0</text>
<line x1="51.8" y1="332.4" x2="54" y2="332.4" stroke="#222" stroke-width="0.9"/>
<text x="50.1" y="335.2" font-size="7.9" fill="#151515" text-anchor="end" font-weight="normal">1.5</text>
<line x1="51.8" y1="311.75" x2="54" y2="311.75" stroke="#222" stroke-width="0.9"/>
<text x="50.1" y="314.55" font-size="7.9" fill="#151515" text-anchor="end" font-weight="normal">2.0</text>
<line x1="51.8" y1="291.1" x2="54" y2="291.1" stroke="#222" stroke-width="0.9"/>
<text x="50.1" y="293.9" font-size="7.9" fill="#151515" text-anchor="end" font-weight="normal">2.5</text>
<line x1="75.8" y1="391.7" x2="75.8" y2="393.9" stroke="#222" stroke-width="0.9"/>
<text x="75.8" y="401.7" font-size="7.8" fill="#151515" text-anchor="middle" font-weight="normal">Baseline</text>
<line x1="111.5" y1="391.7" x2="111.5" y2="393.9" stroke="#222" stroke-width="0.9"/>
<text x="111.5" y="401.7" font-size="7.8" fill="#151515" text-anchor="middle" font-weight="normal">C1D1</text>
<line x1="147.7" y1="391.7" x2="147.7" y2="393.9" stroke="#222" stroke-width="0.9"/>
<text x="147.7" y="401.7" font-size="7.8" fill="#151515" text-anchor="middle" font-weight="normal">C2D1</text>
<text x="111.5" y="411.8" font-size="7.7" fill="#151515" text-anchor="middle" font-weight="normal">Time point</text>
<text transform="translate(36.4 340.9) rotate(-90)" font-size="8.1" fill="#151515" text-anchor="middle">Cell proportions</text>
<text x="54.8" y="283.5" font-size="9.3" fill="#151515" text-anchor="start" font-weight="normal">ThEM_I</text>
<line x1="73.1" y1="296.3" x2="102.7" y2="296.3" stroke="#000" stroke-width="1.7"/>
<text x="88.1" y="296.7" font-size="6.5" fill="#000" text-anchor="middle" font-weight="normal">*</text>
<text x="181.8" y="330.2" font-size="7.6" fill="#151515" text-anchor="start" font-weight="normal">RECIST</text>
<line x1="182.1" y1="340.7" x2="191.3" y2="340.7" stroke="#619cff" stroke-width="0.8"/>
<text x="196.8" y="343.3" font-size="7" fill="#151515" text-anchor="start" font-weight="normal">R</text>
<line x1="182.1" y1="352.3" x2="191.3" y2="352.3" stroke="#f8766d" stroke-width="0.8"/>
<text x="196.8" y="354.9" font-size="7" fill="#151515" text-anchor="start" font-weight="normal">NR</text>
<line x1="293.3" y1="315.25" x2="328.9" y2="361.36" stroke="#f8766d" stroke-width="0.8"/>
<line x1="293.3" y1="345.99" x2="328.9" y2="360" stroke="#619cff" stroke-width="0.8"/>
<line x1="293.3" y1="350.06" x2="328.9" y2="345.54" stroke="#f8766d" stroke-width="0.8"/>
<line x1="293.3" y1="364.52" x2="328.9" y2="335.59" stroke="#f8766d" stroke-width="0.8"/>
<line x1="293.3" y1="366.78" x2="328.9" y2="338.3" stroke="#f8766d" stroke-width="0.8"/>
<line x1="293.3" y1="368.59" x2="328.9" y2="369.49" stroke="#f8766d" stroke-width="0.8"/>
<line x1="293.3" y1="371.75" x2="328.9" y2="340.56" stroke="#f8766d" stroke-width="0.8"/>
<line x1="293.3" y1="374.92" x2="328.9" y2="353.67" stroke="#f8766d" stroke-width="0.8"/>
<line x1="293.3" y1="376.72" x2="328.9" y2="373.56" stroke="#f8766d" stroke-width="0.8"/>
<line x1="293.3" y1="378.53" x2="328.9" y2="342.82" stroke="#f8766d" stroke-width="0.8"/>
<line x1="293.3" y1="380.79" x2="328.9" y2="363.62" stroke="#f8766d" stroke-width="0.8"/>
<line x1="293.3" y1="382.6" x2="328.9" y2="376.27" stroke="#f8766d" stroke-width="0.8"/>
<line x1="293.3" y1="384.86" x2="328.9" y2="371.75" stroke="#f8766d" stroke-width="0.8"/>
<line x1="293.3" y1="386.67" x2="328.9" y2="378.53" stroke="#f8766d" stroke-width="0.8"/>
<line x1="293.3" y1="389.83" x2="328.9" y2="380.79" stroke="#f8766d" stroke-width="0.8"/>
<line x1="293.3" y1="373.56" x2="328.9" y2="386.67" stroke="#619cff" stroke-width="0.8"/>
<line x1="293.3" y1="370.4" x2="328.9" y2="361.81" stroke="#f8766d" stroke-width="0.8"/>
<line x1="328.9" y1="335.59" x2="364.8" y2="295.82" stroke="#f8766d" stroke-width="0.8"/>
<line x1="328.9" y1="386.67" x2="364.8" y2="329.72" stroke="#619cff" stroke-width="0.8"/>
<line x1="328.9" y1="340.56" x2="364.8" y2="332.88" stroke="#f8766d" stroke-width="0.8"/>
<line x1="328.9" y1="353.67" x2="364.8" y2="346.89" stroke="#f8766d" stroke-width="0.8"/>
<line x1="328.9" y1="361.81" x2="364.8" y2="354.12" stroke="#f8766d" stroke-width="0.8"/>
<line x1="328.9" y1="369.49" x2="364.8" y2="355.93" stroke="#f8766d" stroke-width="0.8"/>
<line x1="328.9" y1="371.75" x2="364.8" y2="357.74" stroke="#f8766d" stroke-width="0.8"/>
<line x1="328.9" y1="345.54" x2="364.8" y2="360" stroke="#f8766d" stroke-width="0.8"/>
<line x1="328.9" y1="360" x2="364.8" y2="367.23" stroke="#f8766d" stroke-width="0.8"/>
<line x1="293.3" y1="346.1" x2="293.3" y2="368" stroke="#111" stroke-width="0.8"/>
<line x1="293.3" y1="381.3" x2="293.3" y2="389.8" stroke="#111" stroke-width="0.8"/>
<rect x="284" y="368" width="18.2" height="13.3" fill="none" stroke="#3a3a3a" stroke-width="0.8"/>
<line x1="284" y1="374.3" x2="302.2" y2="374.3" stroke="#000" stroke-width="1.5"/>
<line x1="328.9" y1="335.4" x2="328.9" y2="360.6" stroke="#111" stroke-width="0.8"/>
<line x1="328.9" y1="377.7" x2="328.9" y2="386.8" stroke="#111" stroke-width="0.8"/>
<rect x="319.7" y="360.6" width="18.2" height="17.1" fill="none" stroke="#3a3a3a" stroke-width="0.8"/>
<line x1="319.7" y1="369.6" x2="337.9" y2="369.6" stroke="#000" stroke-width="1.5"/>
<line x1="364.8" y1="329.9" x2="364.8" y2="334" stroke="#111" stroke-width="0.8"/>
<line x1="364.8" y1="358" x2="364.8" y2="368.6" stroke="#111" stroke-width="0.8"/>
<rect x="356.2" y="334" width="17.9" height="24" fill="none" stroke="#3a3a3a" stroke-width="0.8"/>
<line x1="356.2" y1="350.9" x2="374.1" y2="350.9" stroke="#000" stroke-width="1.5"/>
<circle cx="293.3" cy="315.25" r="1.2" fill="#000"/>
<circle cx="328.9" cy="361.36" r="1.2" fill="#000"/>
<circle cx="293.3" cy="345.99" r="1.2" fill="#000"/>
<circle cx="328.9" cy="360" r="1.2" fill="#000"/>
<circle cx="293.3" cy="350.06" r="1.2" fill="#000"/>
<circle cx="328.9" cy="345.54" r="1.2" fill="#000"/>
<circle cx="293.3" cy="364.52" r="1.2" fill="#000"/>
<circle cx="328.9" cy="335.59" r="1.2" fill="#000"/>
<circle cx="293.3" cy="366.78" r="1.2" fill="#000"/>
<circle cx="328.9" cy="338.3" r="1.2" fill="#000"/>
<circle cx="293.3" cy="368.59" r="1.2" fill="#000"/>
<circle cx="328.9" cy="369.49" r="1.2" fill="#000"/>
<circle cx="293.3" cy="371.75" r="1.2" fill="#000"/>
<circle cx="328.9" cy="340.56" r="1.2" fill="#000"/>
<circle cx="293.3" cy="374.92" r="1.2" fill="#000"/>
<circle cx="328.9" cy="353.67" r="1.2" fill="#000"/>
<circle cx="293.3" cy="376.72" r="1.2" fill="#000"/>
<circle cx="328.9" cy="373.56" r="1.2" fill="#000"/>
<circle cx="293.3" cy="378.53" r="1.2" fill="#000"/>
<circle cx="328.9" cy="342.82" r="1.2" fill="#000"/>
<circle cx="293.3" cy="380.79" r="1.2" fill="#000"/>
<circle cx="328.9" cy="363.62" r="1.2" fill="#000"/>
<circle cx="293.3" cy="382.6" r="1.2" fill="#000"/>
<circle cx="328.9" cy="376.27" r="1.2" fill="#000"/>
<circle cx="293.3" cy="384.86" r="1.2" fill="#000"/>
<circle cx="328.9" cy="371.75" r="1.2" fill="#000"/>
<circle cx="293.3" cy="386.67" r="1.2" fill="#000"/>
<circle cx="328.9" cy="378.53" r="1.2" fill="#000"/>
<circle cx="293.3" cy="389.83" r="1.2" fill="#000"/>
<circle cx="328.9" cy="380.79" r="1.2" fill="#000"/>
<circle cx="293.3" cy="373.56" r="1.2" fill="#000"/>
<circle cx="328.9" cy="386.67" r="1.2" fill="#000"/>
<circle cx="293.3" cy="370.4" r="1.2" fill="#000"/>
<circle cx="328.9" cy="361.81" r="1.2" fill="#000"/>
<circle cx="328.9" cy="335.59" r="1.2" fill="#000"/>
<circle cx="364.8" cy="295.82" r="1.2" fill="#000"/>
<circle cx="328.9" cy="386.67" r="1.2" fill="#000"/>
<circle cx="364.8" cy="329.72" r="1.2" fill="#000"/>
<circle cx="328.9" cy="340.56" r="1.2" fill="#000"/>
<circle cx="364.8" cy="332.88" r="1.2" fill="#000"/>
<circle cx="328.9" cy="353.67" r="1.2" fill="#000"/>
<circle cx="364.8" cy="346.89" r="1.2" fill="#000"/>
<circle cx="328.9" cy="361.81" r="1.2" fill="#000"/>
<circle cx="364.8" cy="354.12" r="1.2" fill="#000"/>
<circle cx="328.9" cy="369.49" r="1.2" fill="#000"/>
<circle cx="364.8" cy="355.93" r="1.2" fill="#000"/>
<circle cx="328.9" cy="371.75" r="1.2" fill="#000"/>
<circle cx="364.8" cy="357.74" r="1.2" fill="#000"/>
<circle cx="328.9" cy="345.54" r="1.2" fill="#000"/>
<circle cx="364.8" cy="360" r="1.2" fill="#000"/>
<circle cx="328.9" cy="360" r="1.2" fill="#000"/>
<circle cx="364.8" cy="367.23" r="1.2" fill="#000"/>
<line x1="271.4" y1="290.9" x2="271.4" y2="393.7" stroke="#4a4a4a" stroke-width="1"/>
<line x1="270.9" y1="393.2" x2="385.8" y2="393.2" stroke="#4a4a4a" stroke-width="1"/>
<line x1="269.2" y1="371.3" x2="271.4" y2="371.3" stroke="#222" stroke-width="0.9"/>
<text x="267.5" y="374.1" font-size="7.9" fill="#151515" text-anchor="end" font-weight="normal">0.5</text>
<line x1="269.2" y1="348.7" x2="271.4" y2="348.7" stroke="#222" stroke-width="0.9"/>
<text x="267.5" y="351.5" font-size="7.9" fill="#151515" text-anchor="end" font-weight="normal">1.0</text>
<line x1="269.2" y1="326.1" x2="271.4" y2="326.1" stroke="#222" stroke-width="0.9"/>
<text x="267.5" y="328.9" font-size="7.9" fill="#151515" text-anchor="end" font-weight="normal">1.5</text>
<line x1="269.2" y1="303.5" x2="271.4" y2="303.5" stroke="#222" stroke-width="0.9"/>
<text x="267.5" y="306.3" font-size="7.9" fill="#151515" text-anchor="end" font-weight="normal">2.0</text>
<line x1="293.3" y1="393.2" x2="293.3" y2="395.4" stroke="#222" stroke-width="0.9"/>
<text x="293.3" y="403" font-size="7.8" fill="#151515" text-anchor="middle" font-weight="normal">Baseline</text>
<line x1="328.9" y1="393.2" x2="328.9" y2="395.4" stroke="#222" stroke-width="0.9"/>
<text x="328.9" y="403" font-size="7.8" fill="#151515" text-anchor="middle" font-weight="normal">C1D1</text>
<line x1="364.8" y1="393.2" x2="364.8" y2="395.4" stroke="#222" stroke-width="0.9"/>
<text x="364.8" y="403" font-size="7.8" fill="#151515" text-anchor="middle" font-weight="normal">C2D1</text>
<text x="328.9" y="413.1" font-size="7.7" fill="#151515" text-anchor="middle" font-weight="normal">Time point</text>
<text transform="translate(253.8 342.7) rotate(-90)" font-size="8.1" fill="#151515" text-anchor="middle">Cell proportions</text>
<text x="271.7" y="285.2" font-size="9.3" fill="#151515" text-anchor="start" font-weight="normal">ThCM_II</text>
<line x1="294.1" y1="293.6" x2="323.5" y2="293.6" stroke="#000" stroke-width="1.7"/>
<text x="309" y="294" font-size="6.5" fill="#000" text-anchor="middle" font-weight="normal">*</text>
<text x="398.9" y="332.1" font-size="7.6" fill="#151515" text-anchor="start" font-weight="normal">RECIST</text>
<line x1="399.2" y1="342.6" x2="408.4" y2="342.6" stroke="#619cff" stroke-width="0.8"/>
<text x="413.9" y="345.2" font-size="7" fill="#151515" text-anchor="start" font-weight="normal">R</text>
<line x1="399.2" y1="354.2" x2="408.4" y2="354.2" stroke="#f8766d" stroke-width="0.8"/>
<text x="413.9" y="356.8" font-size="7" fill="#151515" text-anchor="start" font-weight="normal">NR</text>
<text x="32.6" y="434.7" font-size="10.2" fill="#000" text-anchor="start" font-weight="bold">e</text>
<line x1="85.8" y1="462.53" x2="122" y2="450.69" stroke="#f8766d" stroke-width="0.8"/>
<line x1="85.8" y1="482.27" x2="122" y2="482.41" stroke="#f8766d" stroke-width="0.8"/>
<line x1="85.8" y1="483.92" x2="122" y2="478.52" stroke="#f8766d" stroke-width="0.8"/>
<line x1="85.8" y1="485.89" x2="122" y2="497.8" stroke="#f8766d" stroke-width="0.8"/>
<line x1="85.8" y1="488.2" x2="122" y2="480.5" stroke="#f8766d" stroke-width="0.8"/>
<line x1="85.8" y1="491.09" x2="122" y2="509.71" stroke="#f8766d" stroke-width="0.8"/>
<line x1="85.8" y1="494.91" x2="122" y2="505.5" stroke="#f8766d" stroke-width="0.8"/>
<line x1="85.8" y1="497.8" x2="122" y2="485.89" stroke="#619cff" stroke-width="0.8"/>
<line x1="85.8" y1="500.11" x2="122" y2="496.82" stroke="#f8766d" stroke-width="0.8"/>
<line x1="85.8" y1="502.61" x2="122" y2="518.99" stroke="#f8766d" stroke-width="0.8"/>
<line x1="85.8" y1="506.49" x2="122" y2="508.4" stroke="#f8766d" stroke-width="0.8"/>
<line x1="85.8" y1="509.71" x2="122" y2="524.78" stroke="#f8766d" stroke-width="0.8"/>
<line x1="85.8" y1="512.81" x2="122" y2="515.11" stroke="#f8766d" stroke-width="0.8"/>
<line x1="85.8" y1="516.1" x2="122" y2="503.59" stroke="#f8766d" stroke-width="0.8"/>
<line x1="85.8" y1="517.08" x2="122" y2="512.81" stroke="#f8766d" stroke-width="0.8"/>
<line x1="85.8" y1="518" x2="122" y2="526.29" stroke="#f8766d" stroke-width="0.8"/>
<line x1="85.8" y1="518.99" x2="122" y2="516.69" stroke="#f8766d" stroke-width="0.8"/>
<line x1="85.8" y1="522.87" x2="122" y2="534.39" stroke="#f8766d" stroke-width="0.8"/>
<line x1="85.8" y1="524.39" x2="122" y2="528.6" stroke="#619cff" stroke-width="0.8"/>
<line x1="85.8" y1="525.7" x2="122" y2="524.78" stroke="#f8766d" stroke-width="0.8"/>
<line x1="85.8" y1="528.6" x2="122" y2="539.19" stroke="#f8766d" stroke-width="0.8"/>
<line x1="85.8" y1="535.37" x2="122" y2="536.3" stroke="#619cff" stroke-width="0.8"/>
<line x1="85.8" y1="538.27" x2="122" y2="540.18" stroke="#f8766d" stroke-width="0.8"/>
<line x1="85.8" y1="539.78" x2="122" y2="541.69" stroke="#f8766d" stroke-width="0.8"/>
<line x1="85.8" y1="541.23" x2="122" y2="543.07" stroke="#f8766d" stroke-width="0.8"/>
<line x1="85.8" y1="543.07" x2="122" y2="539.19" stroke="#f8766d" stroke-width="0.8"/>
<line x1="122" y1="485.89" x2="159" y2="503.59" stroke="#619cff" stroke-width="0.8"/>
<line x1="122" y1="496.82" x2="159" y2="503.59" stroke="#f8766d" stroke-width="0.8"/>
<line x1="122" y1="503.59" x2="159" y2="514.19" stroke="#f8766d" stroke-width="0.8"/>
<line x1="122" y1="512.81" x2="159" y2="519.39" stroke="#f8766d" stroke-width="0.8"/>
<line x1="122" y1="515.11" x2="159" y2="519.39" stroke="#f8766d" stroke-width="0.8"/>
<line x1="122" y1="524.78" x2="159" y2="529.58" stroke="#f8766d" stroke-width="0.8"/>
<line x1="122" y1="539.19" x2="159" y2="540.18" stroke="#f8766d" stroke-width="0.8"/>
<line x1="122" y1="540.18" x2="159" y2="540.18" stroke="#f8766d" stroke-width="0.8"/>
<line x1="85.8" y1="482.4" x2="85.8" y2="500.9" stroke="#111" stroke-width="0.8"/>
<line x1="85.8" y1="526.2" x2="85.8" y2="543.1" stroke="#111" stroke-width="0.8"/>
<rect x="76.1" y="500.9" width="18.4" height="25.3" fill="none" stroke="#3a3a3a" stroke-width="0.8"/>
<line x1="76.1" y1="517.5" x2="94.5" y2="517.5" stroke="#000" stroke-width="1.5"/>
<line x1="122" y1="478.5" x2="122" y2="505.4" stroke="#111" stroke-width="0.8"/>
<line x1="122" y1="528.6" x2="122" y2="543.1" stroke="#111" stroke-width="0.8"/>
<rect x="112.7" y="505.4" width="18.8" height="23.2" fill="none" stroke="#3a3a3a" stroke-width="0.8"/>
<line x1="112.7" y1="515.7" x2="131.5" y2="515.7" stroke="#000" stroke-width="1.5"/>
<line x1="159" y1="503.6" x2="159" y2="511.5" stroke="#111" stroke-width="0.8"/>
<line x1="159" y1="532.1" x2="159" y2="540.2" stroke="#111" stroke-width="0.8"/>
<rect x="149.5" y="511.5" width="18.8" height="20.6" fill="none" stroke="#3a3a3a" stroke-width="0.8"/>
<line x1="149.5" y1="519.7" x2="168.3" y2="519.7" stroke="#000" stroke-width="1.5"/>
<circle cx="85.8" cy="462.53" r="1.2" fill="#000"/>
<circle cx="122" cy="450.69" r="1.2" fill="#000"/>
<circle cx="85.8" cy="482.27" r="1.2" fill="#000"/>
<circle cx="122" cy="482.41" r="1.2" fill="#000"/>
<circle cx="85.8" cy="483.92" r="1.2" fill="#000"/>
<circle cx="122" cy="478.52" r="1.2" fill="#000"/>
<circle cx="85.8" cy="485.89" r="1.2" fill="#000"/>
<circle cx="122" cy="497.8" r="1.2" fill="#000"/>
<circle cx="85.8" cy="488.2" r="1.2" fill="#000"/>
<circle cx="122" cy="480.5" r="1.2" fill="#000"/>
<circle cx="85.8" cy="491.09" r="1.2" fill="#000"/>
<circle cx="122" cy="509.71" r="1.2" fill="#000"/>
<circle cx="85.8" cy="494.91" r="1.2" fill="#000"/>
<circle cx="122" cy="505.5" r="1.2" fill="#000"/>
<circle cx="85.8" cy="497.8" r="1.2" fill="#000"/>
<circle cx="122" cy="485.89" r="1.2" fill="#000"/>
<circle cx="85.8" cy="500.11" r="1.2" fill="#000"/>
<circle cx="122" cy="496.82" r="1.2" fill="#000"/>
<circle cx="85.8" cy="502.61" r="1.2" fill="#000"/>
<circle cx="122" cy="518.99" r="1.2" fill="#000"/>
<circle cx="85.8" cy="506.49" r="1.2" fill="#000"/>
<circle cx="122" cy="508.4" r="1.2" fill="#000"/>
<circle cx="85.8" cy="509.71" r="1.2" fill="#000"/>
<circle cx="122" cy="524.78" r="1.2" fill="#000"/>
<circle cx="85.8" cy="512.81" r="1.2" fill="#000"/>
<circle cx="122" cy="515.11" r="1.2" fill="#000"/>
<circle cx="85.8" cy="516.1" r="1.2" fill="#000"/>
<circle cx="122" cy="503.59" r="1.2" fill="#000"/>
<circle cx="85.8" cy="517.08" r="1.2" fill="#000"/>
<circle cx="122" cy="512.81" r="1.2" fill="#000"/>
<circle cx="85.8" cy="518" r="1.2" fill="#000"/>
<circle cx="122" cy="526.29" r="1.2" fill="#000"/>
<circle cx="85.8" cy="518.99" r="1.2" fill="#000"/>
<circle cx="122" cy="516.69" r="1.2" fill="#000"/>
<circle cx="85.8" cy="522.87" r="1.2" fill="#000"/>
<circle cx="122" cy="534.39" r="1.2" fill="#000"/>
<circle cx="85.8" cy="524.39" r="1.2" fill="#000"/>
<circle cx="122" cy="528.6" r="1.2" fill="#000"/>
<circle cx="85.8" cy="525.7" r="1.2" fill="#000"/>
<circle cx="122" cy="524.78" r="1.2" fill="#000"/>
<circle cx="85.8" cy="528.6" r="1.2" fill="#000"/>
<circle cx="122" cy="539.19" r="1.2" fill="#000"/>
<circle cx="85.8" cy="535.37" r="1.2" fill="#000"/>
<circle cx="122" cy="536.3" r="1.2" fill="#000"/>
<circle cx="85.8" cy="538.27" r="1.2" fill="#000"/>
<circle cx="122" cy="540.18" r="1.2" fill="#000"/>
<circle cx="85.8" cy="539.78" r="1.2" fill="#000"/>
<circle cx="122" cy="541.69" r="1.2" fill="#000"/>
<circle cx="85.8" cy="541.23" r="1.2" fill="#000"/>
<circle cx="122" cy="543.07" r="1.2" fill="#000"/>
<circle cx="85.8" cy="543.07" r="1.2" fill="#000"/>
<circle cx="122" cy="539.19" r="1.2" fill="#000"/>
<circle cx="122" cy="485.89" r="1.2" fill="#000"/>
<circle cx="159" cy="503.59" r="1.2" fill="#000"/>
<circle cx="122" cy="496.82" r="1.2" fill="#000"/>
<circle cx="159" cy="503.59" r="1.2" fill="#000"/>
<circle cx="122" cy="503.59" r="1.2" fill="#000"/>
<circle cx="159" cy="514.19" r="1.2" fill="#000"/>
<circle cx="122" cy="512.81" r="1.2" fill="#000"/>
<circle cx="159" cy="519.39" r="1.2" fill="#000"/>
<circle cx="122" cy="515.11" r="1.2" fill="#000"/>
<circle cx="159" cy="519.39" r="1.2" fill="#000"/>
<circle cx="122" cy="524.78" r="1.2" fill="#000"/>
<circle cx="159" cy="529.58" r="1.2" fill="#000"/>
<circle cx="122" cy="539.19" r="1.2" fill="#000"/>
<circle cx="159" cy="540.18" r="1.2" fill="#000"/>
<circle cx="122" cy="540.18" r="1.2" fill="#000"/>
<circle cx="159" cy="540.18" r="1.2" fill="#000"/>
<line x1="63.3" y1="445.3" x2="63.3" y2="549" stroke="#4a4a4a" stroke-width="1"/>
<line x1="62.8" y1="548.5" x2="180.8" y2="548.5" stroke="#4a4a4a" stroke-width="1"/>
<line x1="61.1" y1="546.1" x2="63.3" y2="546.1" stroke="#222" stroke-width="0.9"/>
<text x="59.4" y="548.9" font-size="7.9" fill="#151515" text-anchor="end" font-weight="normal">0</text>
<line x1="61.1" y1="513.2" x2="63.3" y2="513.2" stroke="#222" stroke-width="0.9"/>
<text x="59.4" y="516" font-size="7.9" fill="#151515" text-anchor="end" font-weight="normal">5</text>
<line x1="61.1" y1="480.3" x2="63.3" y2="480.3" stroke="#222" stroke-width="0.9"/>
<text x="59.4" y="483.1" font-size="7.9" fill="#151515" text-anchor="end" font-weight="normal">10</text>
<line x1="61.1" y1="447.4" x2="63.3" y2="447.4" stroke="#222" stroke-width="0.9"/>
<text x="59.4" y="450.2" font-size="7.9" fill="#151515" text-anchor="end" font-weight="normal">15</text>
<line x1="85.8" y1="548.5" x2="85.8" y2="550.7" stroke="#222" stroke-width="0.9"/>
<text x="85.8" y="558.4" font-size="7.8" fill="#151515" text-anchor="middle" font-weight="normal">Baseline</text>
<line x1="122" y1="548.5" x2="122" y2="550.7" stroke="#222" stroke-width="0.9"/>
<text x="122" y="558.4" font-size="7.8" fill="#151515" text-anchor="middle" font-weight="normal">C1D1</text>
<line x1="159" y1="548.5" x2="159" y2="550.7" stroke="#222" stroke-width="0.9"/>
<text x="159" y="558.4" font-size="7.8" fill="#151515" text-anchor="middle" font-weight="normal">C2D1</text>
<text x="122" y="568.5" font-size="7.7" fill="#151515" text-anchor="middle" font-weight="normal">Time point</text>
<text transform="translate(48.2 496.6) rotate(-90)" font-size="8.1" fill="#151515" text-anchor="middle">Cell proportions</text>
<text x="63.3" y="439.8" font-size="9.3" fill="#151515" text-anchor="start" font-weight="normal">TcN</text>
<line x1="126.3" y1="504.6" x2="155.2" y2="504.6" stroke="#000" stroke-width="1.7"/>
<text x="140.95" y="505" font-size="6.5" fill="#000" text-anchor="middle" font-weight="normal">*</text>
<text x="193.1" y="486.8" font-size="7.6" fill="#151515" text-anchor="start" font-weight="normal">RECIST</text>
<line x1="193.4" y1="497.3" x2="202.6" y2="497.3" stroke="#619cff" stroke-width="0.8"/>
<text x="208.1" y="499.9" font-size="7" fill="#151515" text-anchor="start" font-weight="normal">R</text>
<line x1="193.4" y1="508.9" x2="202.6" y2="508.9" stroke="#f8766d" stroke-width="0.8"/>
<text x="208.1" y="511.5" font-size="7" fill="#151515" text-anchor="start" font-weight="normal">NR</text>
<text x="467.6" y="274.4" font-size="9.8" fill="#000" text-anchor="start" font-weight="bold">d</text>
<line x1="472" y1="274.9" x2="684.5" y2="274.9" stroke="#8c8c8c" stroke-width="1.1"/>
<text x="500.7" y="287.2" font-size="8.1" fill="#111" text-anchor="middle" font-weight="bold">Cell</text>
<text x="500.7" y="297.7" font-size="8.1" fill="#111" text-anchor="middle" font-weight="bold">Population</text>
<text x="566.1" y="287.2" font-size="8.1" fill="#111" text-anchor="middle" font-weight="bold">Mean of</text>
<text x="566.1" y="297.7" font-size="8.1" fill="#111" text-anchor="middle" font-weight="bold">(C1D1-Baseline)</text>
<text x="643.8" y="287.2" font-size="8.1" fill="#111" text-anchor="middle" font-weight="bold">P value</text>
<text x="643.8" y="297.7" font-size="8.1" fill="#111" text-anchor="middle" font-weight="bold">Baseline vs C1D1</text>
<line x1="472" y1="302.5" x2="684.5" y2="302.5" stroke="#9a9a9a" stroke-width="1.3"/>
<rect x="472" y="303.2" width="55.9" height="14.9" fill="#ececec"/>
<rect x="528.7" y="303.2" width="73.6" height="14.9" fill="#ececec"/>
<rect x="603.1" y="303.2" width="81.4" height="14.9" fill="#ececec"/>
<text x="500.7" y="313.4" font-size="7" fill="#222" text-anchor="middle" font-weight="normal">TcEFF_II</text>
<text x="566.1" y="313.4" font-size="7" fill="#222" text-anchor="middle" font-weight="normal">-0.190</text>
<text x="643.8" y="313.4" font-size="7" fill="#222" text-anchor="middle" font-weight="normal">0.023</text>
<text x="500.7" y="328.3" font-size="7" fill="#222" text-anchor="middle" font-weight="normal">ThCM_II</text>
<text x="566.1" y="328.3" font-size="7" fill="#222" text-anchor="middle" font-weight="normal">0.097</text>
<text x="643.8" y="328.3" font-size="7" fill="#222" text-anchor="middle" font-weight="normal">0.034</text>
<rect x="472" y="333" width="55.9" height="14.9" fill="#ececec"/>
<rect x="528.7" y="333" width="73.6" height="14.9" fill="#ececec"/>
<rect x="603.1" y="333" width="81.4" height="14.9" fill="#ececec"/>
<text x="500.7" y="343.2" font-size="7" fill="#222" text-anchor="middle" font-weight="normal">ThEM_I</text>
<text x="566.1" y="343.2" font-size="7" fill="#222" text-anchor="middle" font-weight="normal">0.231</text>
<text x="643.8" y="343.2" font-size="7" fill="#222" text-anchor="middle" font-weight="normal">0.001</text>
<text x="500.7" y="358.1" font-size="7" fill="#222" text-anchor="middle" font-weight="normal">ThEM_IX</text>
<text x="566.1" y="358.1" font-size="7" fill="#222" text-anchor="middle" font-weight="normal">0.129</text>
<text x="643.8" y="358.1" font-size="7" fill="#222" text-anchor="middle" font-weight="normal">0.040</text>
<rect x="472" y="362.8" width="55.9" height="14.9" fill="#ececec"/>
<rect x="528.7" y="362.8" width="73.6" height="14.9" fill="#ececec"/>
<rect x="603.1" y="362.8" width="81.4" height="14.9" fill="#ececec"/>
<text x="500.7" y="373" font-size="7" fill="#222" text-anchor="middle" font-weight="normal">ThEM_VIII</text>
<text x="566.1" y="373" font-size="7" fill="#222" text-anchor="middle" font-weight="normal">0.059</text>
<text x="643.8" y="373" font-size="7" fill="#222" text-anchor="middle" font-weight="normal">0.036</text>
<line x1="472" y1="377.9" x2="684.5" y2="377.9" stroke="#9a9a9a" stroke-width="1.1"/>
</svg>
</body></html>
